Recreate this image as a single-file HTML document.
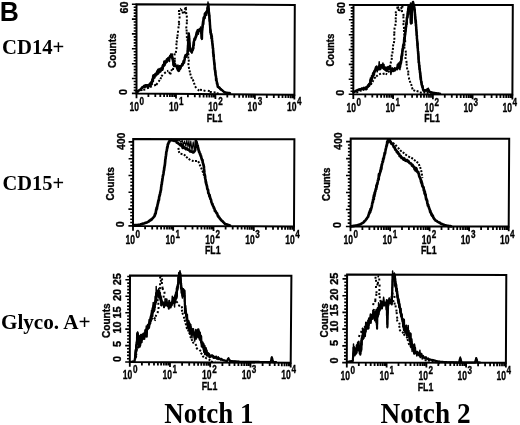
<!DOCTYPE html>
<html><head><meta charset="utf-8"><style>
html,body{margin:0;padding:0;background:#fff;}
svg{display:block;filter:grayscale(1) blur(0.5px);}
.tk{font:bold 12.23px "Liberation Sans", sans-serif;stroke:#000;stroke-width:0.35px;}
.sp{font:bold 10.43px "Liberation Sans", sans-serif;stroke:#000;stroke-width:0.35px;}
.fl{font:bold 11.15px "Liberation Sans", sans-serif;stroke:#000;stroke-width:0.35px;}
.ct{font:bold 10px "Liberation Sans", sans-serif;}
.yl{font:bold 10.5px "Liberation Sans", sans-serif;}
.row{font:bold 20px "Liberation Serif", serif;}
.bb{font:bold 27px "Liberation Sans", sans-serif;}
.col{font:bold 28px "Liberation Serif", serif;}
</style></head><body>
<svg width="520" height="425" viewBox="0 0 520 425">
<rect width="520" height="425" fill="#fff"/>
<polygon points="136.5,4.2 294.8,5.0 294.4,94.8 136.5,93.4" fill="none" stroke="#000" stroke-width="2" stroke-linejoin="miter"/>
<path d="M136.5 93.4h-4.6M136.5 90.4h-2.8M136.5 87.5h-2.8M136.5 84.5h-2.8M136.5 81.5h-2.8M136.5 78.5h-4.6M136.5 75.6h-2.8M136.5 72.6h-2.8M136.5 69.6h-2.8M136.5 66.6h-2.8M136.5 63.7h-4.6M136.5 60.7h-2.8M136.5 57.7h-2.8M136.5 54.7h-2.8M136.5 51.8h-2.8M136.5 48.8h-4.6M136.5 45.8h-2.8M136.5 42.9h-2.8M136.5 39.9h-2.8M136.5 36.9h-2.8M136.5 33.9h-4.6M136.5 31.0h-2.8M136.5 28.0h-2.8M136.5 25.0h-2.8M136.5 22.0h-2.8M136.5 19.1h-4.6M136.5 16.1h-2.8M136.5 13.1h-2.8M136.5 10.1h-2.8M136.5 7.2h-2.8M136.5 4.2h-4.6" stroke="#000" stroke-width="1.6" fill="none"/>
<path d="M136.5 93.4v4.8M148.4 93.5v3.4M155.3 93.6v3.4M160.3 93.6v3.4M164.1 93.6v3.4M167.2 93.7v3.4M169.9 93.7v3.4M172.1 93.7v3.4M174.2 93.7v3.4M176.0 93.8v4.8M187.9 93.9v3.4M194.8 93.9v3.4M199.7 94.0v3.4M203.6 94.0v3.4M206.7 94.0v3.4M209.3 94.0v3.4M211.6 94.1v3.4M213.6 94.1v3.4M215.4 94.1v4.8M227.3 94.2v3.4M234.3 94.3v3.4M239.2 94.3v3.4M243.0 94.3v3.4M246.2 94.4v3.4M248.8 94.4v3.4M251.1 94.4v3.4M253.1 94.4v3.4M254.9 94.5v4.8M266.8 94.6v3.4M273.8 94.6v3.4M278.7 94.7v3.4M282.5 94.7v3.4M285.6 94.7v3.4M288.3 94.7v3.4M290.6 94.8v3.4M292.6 94.8v3.4M294.4 94.8v4.8" stroke="#000" stroke-width="1.8" fill="none"/>
<text class="tk" transform="translate(129.50 111.00) scale(0.70 1)">10</text>
<text class="sp" transform="translate(139.60 105.40) scale(0.78 1)">0</text>
<text class="tk" transform="translate(168.88 111.00) scale(0.70 1)">10</text>
<text class="sp" transform="translate(178.97 105.40) scale(0.78 1)">1</text>
<text class="tk" transform="translate(208.25 111.00) scale(0.70 1)">10</text>
<text class="sp" transform="translate(218.35 105.40) scale(0.78 1)">2</text>
<text class="tk" transform="translate(247.62 111.00) scale(0.70 1)">10</text>
<text class="sp" transform="translate(257.72 105.40) scale(0.78 1)">3</text>
<text class="tk" transform="translate(287.00 111.00) scale(0.70 1)">10</text>
<text class="sp" transform="translate(297.10 105.40) scale(0.78 1)">4</text>
<text class="fl" transform="translate(206.85 122.00) scale(0.79 1)">FL1</text>
<polygon points="353.5,4.9 512.8,4.9 512.4,94.6 353.3,94.2" fill="none" stroke="#000" stroke-width="2" stroke-linejoin="miter"/>
<path d="M353.3 94.2h-4.6M353.3 91.2h-2.8M353.3 88.2h-2.8M353.3 85.3h-2.8M353.3 82.3h-2.8M353.3 79.3h-4.6M353.3 76.3h-2.8M353.3 73.4h-2.8M353.4 70.4h-2.8M353.4 67.4h-2.8M353.4 64.4h-4.6M353.4 61.5h-2.8M353.4 58.5h-2.8M353.4 55.5h-2.8M353.4 52.5h-2.8M353.4 49.6h-4.6M353.4 46.6h-2.8M353.4 43.6h-2.8M353.4 40.6h-2.8M353.4 37.6h-2.8M353.4 34.7h-4.6M353.4 31.7h-2.8M353.4 28.7h-2.8M353.5 25.7h-2.8M353.5 22.8h-2.8M353.5 19.8h-4.6M353.5 16.8h-2.8M353.5 13.8h-2.8M353.5 10.9h-2.8M353.5 7.9h-2.8M353.5 4.9h-4.6" stroke="#000" stroke-width="1.6" fill="none"/>
<path d="M353.3 94.2v4.8M365.3 94.2v3.4M372.3 94.2v3.4M377.2 94.3v3.4M381.1 94.3v3.4M384.3 94.3v3.4M386.9 94.3v3.4M389.2 94.3v3.4M391.3 94.3v3.4M393.1 94.3v4.8M405.0 94.3v3.4M412.1 94.3v3.4M417.0 94.4v3.4M420.9 94.4v3.4M424.0 94.4v3.4M426.7 94.4v3.4M429.0 94.4v3.4M431.0 94.4v3.4M432.9 94.4v4.8M444.8 94.4v3.4M451.8 94.4v3.4M456.8 94.5v3.4M460.7 94.5v3.4M463.8 94.5v3.4M466.5 94.5v3.4M468.8 94.5v3.4M470.8 94.5v3.4M472.6 94.5v4.8M484.6 94.5v3.4M491.6 94.5v3.4M496.6 94.6v3.4M500.4 94.6v3.4M503.6 94.6v3.4M506.2 94.6v3.4M508.5 94.6v3.4M510.6 94.6v3.4M512.4 94.6v4.8" stroke="#000" stroke-width="1.8" fill="none"/>
<text class="tk" transform="translate(346.50 111.50) scale(0.70 1)">10</text>
<text class="sp" transform="translate(356.60 105.90) scale(0.78 1)">0</text>
<text class="tk" transform="translate(385.50 111.50) scale(0.70 1)">10</text>
<text class="sp" transform="translate(395.60 105.90) scale(0.78 1)">1</text>
<text class="tk" transform="translate(424.50 111.50) scale(0.70 1)">10</text>
<text class="sp" transform="translate(434.60 105.90) scale(0.78 1)">2</text>
<text class="tk" transform="translate(463.50 111.50) scale(0.70 1)">10</text>
<text class="sp" transform="translate(473.60 105.90) scale(0.78 1)">3</text>
<text class="tk" transform="translate(502.50 111.50) scale(0.70 1)">10</text>
<text class="sp" transform="translate(512.60 105.90) scale(0.78 1)">4</text>
<text class="fl" transform="translate(424.25 122.30) scale(0.79 1)">FL1</text>
<polygon points="133.2,139.0 294.4,139.2 294.0,226.4 133.0,225.9" fill="none" stroke="#000" stroke-width="2" stroke-linejoin="miter"/>
<path d="M133.0 225.9h-4.6M133.0 222.5h-2.8M133.0 219.2h-2.8M133.0 215.8h-2.8M133.0 212.5h-2.8M133.0 209.1h-4.6M133.0 205.7h-2.8M133.1 202.4h-2.8M133.1 199.0h-2.8M133.1 195.7h-2.8M133.1 192.3h-4.6M133.1 189.0h-2.8M133.1 185.6h-2.8M133.1 182.2h-2.8M133.1 178.9h-2.8M133.1 175.5h-4.6M133.1 172.2h-2.8M133.1 168.8h-2.8M133.1 165.4h-2.8M133.1 162.1h-2.8M133.2 158.7h-4.6M133.2 155.4h-2.8M133.2 152.0h-2.8M133.2 148.7h-2.8M133.2 145.3h-2.8M133.2 141.9h-4.6" stroke="#000" stroke-width="1.6" fill="none"/>
<path d="M133.0 225.9v4.8M145.1 225.9v3.4M152.2 226.0v3.4M157.2 226.0v3.4M161.1 226.0v3.4M164.3 226.0v3.4M167.0 226.0v3.4M169.3 226.0v3.4M171.4 226.0v3.4M173.2 226.0v4.8M185.4 226.1v3.4M192.5 226.1v3.4M197.5 226.1v3.4M201.4 226.1v3.4M204.6 226.1v3.4M207.3 226.1v3.4M209.6 226.1v3.4M211.7 226.1v3.4M213.5 226.2v4.8M225.6 226.2v3.4M232.7 226.2v3.4M237.7 226.2v3.4M241.6 226.2v3.4M244.8 226.2v3.4M247.5 226.3v3.4M249.8 226.3v3.4M251.9 226.3v3.4M253.8 226.3v4.8M265.9 226.3v3.4M273.0 226.3v3.4M278.0 226.4v3.4M281.9 226.4v3.4M285.1 226.4v3.4M287.8 226.4v3.4M290.1 226.4v3.4M292.2 226.4v3.4M294.0 226.4v4.8" stroke="#000" stroke-width="1.8" fill="none"/>
<text class="tk" transform="translate(125.50 243.80) scale(0.70 1)">10</text>
<text class="sp" transform="translate(135.60 238.20) scale(0.78 1)">0</text>
<text class="tk" transform="translate(165.43 243.80) scale(0.70 1)">10</text>
<text class="sp" transform="translate(175.53 238.20) scale(0.78 1)">1</text>
<text class="tk" transform="translate(205.35 243.80) scale(0.70 1)">10</text>
<text class="sp" transform="translate(215.45 238.20) scale(0.78 1)">2</text>
<text class="tk" transform="translate(245.27 243.80) scale(0.70 1)">10</text>
<text class="sp" transform="translate(255.37 238.20) scale(0.78 1)">3</text>
<text class="tk" transform="translate(285.20 243.80) scale(0.70 1)">10</text>
<text class="sp" transform="translate(295.30 238.20) scale(0.78 1)">4</text>
<text class="fl" transform="translate(204.90 254.05) scale(0.79 1)">FL1</text>
<polygon points="350.7,138.6 509.2,138.7 508.7,226.5 350.5,226.5" fill="none" stroke="#000" stroke-width="2" stroke-linejoin="miter"/>
<path d="M350.5 226.5h-4.6M350.5 223.1h-2.8M350.5 219.7h-2.8M350.5 216.3h-2.8M350.5 212.9h-2.8M350.5 209.5h-4.6M350.5 206.1h-2.8M350.6 202.7h-2.8M350.6 199.3h-2.8M350.6 195.9h-2.8M350.6 192.5h-4.6M350.6 189.1h-2.8M350.6 185.7h-2.8M350.6 182.3h-2.8M350.6 178.9h-2.8M350.6 175.5h-4.6M350.6 172.1h-2.8M350.6 168.7h-2.8M350.6 165.4h-2.8M350.6 162.0h-2.8M350.7 158.6h-4.6M350.7 155.2h-2.8M350.7 151.8h-2.8M350.7 148.4h-2.8M350.7 145.0h-2.8M350.7 141.6h-4.6" stroke="#000" stroke-width="1.6" fill="none"/>
<path d="M350.5 226.5v4.8M362.4 226.5v3.4M369.4 226.5v3.4M374.3 226.5v3.4M378.1 226.5v3.4M381.3 226.5v3.4M383.9 226.5v3.4M386.2 226.5v3.4M388.2 226.5v3.4M390.1 226.5v4.8M402.0 226.5v3.4M408.9 226.5v3.4M413.9 226.5v3.4M417.7 226.5v3.4M420.8 226.5v3.4M423.5 226.5v3.4M425.8 226.5v3.4M427.8 226.5v3.4M429.6 226.5v4.8M441.5 226.5v3.4M448.5 226.5v3.4M453.4 226.5v3.4M457.2 226.5v3.4M460.4 226.5v3.4M463.0 226.5v3.4M465.3 226.5v3.4M467.3 226.5v3.4M469.1 226.5v4.8M481.1 226.5v3.4M488.0 226.5v3.4M493.0 226.5v3.4M496.8 226.5v3.4M499.9 226.5v3.4M502.6 226.5v3.4M504.9 226.5v3.4M506.9 226.5v3.4M508.7 226.5v4.8" stroke="#000" stroke-width="1.8" fill="none"/>
<text class="tk" transform="translate(343.50 244.00) scale(0.70 1)">10</text>
<text class="sp" transform="translate(353.60 238.40) scale(0.78 1)">0</text>
<text class="tk" transform="translate(382.60 244.00) scale(0.70 1)">10</text>
<text class="sp" transform="translate(392.70 238.40) scale(0.78 1)">1</text>
<text class="tk" transform="translate(421.70 244.00) scale(0.70 1)">10</text>
<text class="sp" transform="translate(431.80 238.40) scale(0.78 1)">2</text>
<text class="tk" transform="translate(460.80 244.00) scale(0.70 1)">10</text>
<text class="sp" transform="translate(470.90 238.40) scale(0.78 1)">3</text>
<text class="tk" transform="translate(499.90 244.00) scale(0.70 1)">10</text>
<text class="sp" transform="translate(510.00 238.40) scale(0.78 1)">4</text>
<text class="fl" transform="translate(421.00 254.40) scale(0.79 1)">FL1</text>
<polygon points="130.0,275.5 291.4,275.8 290.7,362.8 129.8,362.0" fill="none" stroke="#000" stroke-width="2" stroke-linejoin="miter"/>
<path d="M129.8 362.0h-4.6M129.8 358.7h-2.8M129.8 355.4h-2.8M129.8 352.1h-2.8M129.8 348.8h-2.8M129.8 345.6h-4.6M129.8 342.3h-2.8M129.9 339.0h-2.8M129.9 335.7h-2.8M129.9 332.4h-2.8M129.9 329.1h-4.6M129.9 325.8h-2.8M129.9 322.5h-2.8M129.9 319.2h-2.8M129.9 316.0h-2.8M129.9 312.7h-4.6M129.9 309.4h-2.8M129.9 306.1h-2.8M129.9 302.8h-2.8M129.9 299.5h-2.8M130.0 296.2h-4.6M130.0 292.9h-2.8M130.0 289.6h-2.8M130.0 286.4h-2.8M130.0 283.1h-2.8M130.0 279.8h-4.6M130.0 276.5h-2.8" stroke="#000" stroke-width="1.6" fill="none"/>
<path d="M129.8 362.0v4.8M141.9 362.1v3.4M149.0 362.1v3.4M154.0 362.1v3.4M157.9 362.1v3.4M161.1 362.2v3.4M163.8 362.2v3.4M166.1 362.2v3.4M168.2 362.2v3.4M170.0 362.2v4.8M182.1 362.3v3.4M189.2 362.3v3.4M194.2 362.3v3.4M198.1 362.3v3.4M201.3 362.4v3.4M204.0 362.4v3.4M206.4 362.4v3.4M208.4 362.4v3.4M210.2 362.4v4.8M222.4 362.5v3.4M229.4 362.5v3.4M234.5 362.5v3.4M238.4 362.5v3.4M241.6 362.6v3.4M244.2 362.6v3.4M246.6 362.6v3.4M248.6 362.6v3.4M250.5 362.6v4.8M262.6 362.7v3.4M269.7 362.7v3.4M274.7 362.7v3.4M278.6 362.7v3.4M281.8 362.8v3.4M284.5 362.8v3.4M286.8 362.8v3.4M288.9 362.8v3.4M290.7 362.8v4.8" stroke="#000" stroke-width="1.8" fill="none"/>
<text class="tk" transform="translate(122.80 379.00) scale(0.70 1)">10</text>
<text class="sp" transform="translate(132.90 373.40) scale(0.78 1)">0</text>
<text class="tk" transform="translate(162.43 379.00) scale(0.70 1)">10</text>
<text class="sp" transform="translate(172.53 373.40) scale(0.78 1)">1</text>
<text class="tk" transform="translate(202.05 379.00) scale(0.70 1)">10</text>
<text class="sp" transform="translate(212.15 373.40) scale(0.78 1)">2</text>
<text class="tk" transform="translate(241.68 379.00) scale(0.70 1)">10</text>
<text class="sp" transform="translate(251.78 373.40) scale(0.78 1)">3</text>
<text class="tk" transform="translate(281.30 379.00) scale(0.70 1)">10</text>
<text class="sp" transform="translate(291.40 373.40) scale(0.78 1)">4</text>
<text class="fl" transform="translate(201.65 390.30) scale(0.79 1)">FL1</text>
<polygon points="347.1,274.6 506.3,274.9 505.9,362.8 346.8,362.6" fill="none" stroke="#000" stroke-width="2" stroke-linejoin="miter"/>
<path d="M346.8 362.6h-4.6M346.8 359.3h-2.8M346.8 355.9h-2.8M346.8 352.6h-2.8M346.8 349.2h-2.8M346.9 345.9h-4.6M346.9 342.5h-2.8M346.9 339.2h-2.8M346.9 335.8h-2.8M346.9 332.5h-2.8M346.9 329.1h-4.6M346.9 325.8h-2.8M346.9 322.4h-2.8M346.9 319.1h-2.8M347.0 315.8h-2.8M347.0 312.4h-4.6M347.0 309.1h-2.8M347.0 305.7h-2.8M347.0 302.4h-2.8M347.0 299.0h-2.8M347.0 295.7h-4.6M347.0 292.3h-2.8M347.1 289.0h-2.8M347.1 285.6h-2.8M347.1 282.3h-2.8M347.1 278.9h-4.6M347.1 275.6h-2.8" stroke="#000" stroke-width="1.6" fill="none"/>
<path d="M346.8 362.6v4.8M358.8 362.6v3.4M365.8 362.6v3.4M370.7 362.6v3.4M374.6 362.6v3.4M377.8 362.6v3.4M380.4 362.6v3.4M382.7 362.6v3.4M384.8 362.6v3.4M386.6 362.7v4.8M398.5 362.7v3.4M405.6 362.7v3.4M410.5 362.7v3.4M414.4 362.7v3.4M417.5 362.7v3.4M420.2 362.7v3.4M422.5 362.7v3.4M424.5 362.7v3.4M426.4 362.7v4.8M438.3 362.7v3.4M445.3 362.7v3.4M450.3 362.7v3.4M454.2 362.7v3.4M457.3 362.7v3.4M460.0 362.7v3.4M462.3 362.7v3.4M464.3 362.7v3.4M466.1 362.8v4.8M478.1 362.8v3.4M485.1 362.8v3.4M490.1 362.8v3.4M493.9 362.8v3.4M497.1 362.8v3.4M499.7 362.8v3.4M502.0 362.8v3.4M504.1 362.8v3.4M505.9 362.8v4.8" stroke="#000" stroke-width="1.8" fill="none"/>
<text class="tk" transform="translate(340.50 379.60) scale(0.70 1)">10</text>
<text class="sp" transform="translate(350.60 374.00) scale(0.78 1)">0</text>
<text class="tk" transform="translate(379.48 379.60) scale(0.70 1)">10</text>
<text class="sp" transform="translate(389.57 374.00) scale(0.78 1)">1</text>
<text class="tk" transform="translate(418.45 379.60) scale(0.70 1)">10</text>
<text class="sp" transform="translate(428.55 374.00) scale(0.78 1)">2</text>
<text class="tk" transform="translate(457.42 379.60) scale(0.70 1)">10</text>
<text class="sp" transform="translate(467.52 374.00) scale(0.78 1)">3</text>
<text class="tk" transform="translate(496.40 379.60) scale(0.70 1)">10</text>
<text class="sp" transform="translate(506.50 374.00) scale(0.78 1)">4</text>
<text class="fl" transform="translate(417.75 390.60) scale(0.79 1)">FL1</text>
<polyline points="136.5,91.8 137.2,91.5 137.9,91.0 138.6,90.6 139.3,90.4 140.0,89.8 140.5,89.4 141.1,88.9 141.6,88.1 142.1,87.3 142.7,87.3 143.2,87.1 144.0,85.9 144.8,85.6 145.6,86.2 146.3,85.2 147.1,85.4 147.8,87.1 148.5,85.2 149.2,85.9 149.8,83.8 150.5,84.1 150.8,84.9 151.2,84.1 151.6,81.8 151.9,81.5 152.1,81.3 152.4,79.3 152.6,80.3 152.9,81.3 153.1,77.0 153.3,75.6 153.6,77.2 153.8,76.1 154.4,77.6 155.0,75.2 155.5,74.9 156.1,74.4 156.7,73.2 157.2,74.3 157.7,71.7 158.1,73.6 158.6,71.9 159.1,71.8 159.6,70.2 160.1,69.3 160.5,71.4 161.0,69.5 161.5,69.7 161.9,68.0 162.3,69.8 162.7,66.9 163.1,64.9 163.5,66.0 163.9,65.0 164.4,61.6 164.9,63.0 165.3,63.4 165.8,62.5 166.4,60.8 167.0,59.3 167.5,60.5 168.1,58.2 168.7,60.1 169.2,57.9 169.7,56.8 170.1,56.6 170.6,55.7 171.1,55.4 172.0,54.8 172.1,55.9 172.3,57.2 172.4,58.3 172.5,57.4 172.7,58.3 172.8,59.5 173.0,60.8 173.1,61.6 173.2,60.2 173.4,64.7 173.5,62.8 174.1,66.1 174.7,63.5 175.2,64.4 175.8,65.7 176.4,66.3 176.8,66.3 177.2,68.4 177.5,66.5 177.9,70.0 178.3,68.7 178.7,70.2 179.1,67.9 179.4,66.3 179.8,67.5 180.2,68.7 180.9,66.0 181.6,65.7 182.4,64.7 183.1,63.7 183.3,63.1 183.5,61.8 183.7,61.0 183.9,61.7 184.1,62.5 184.3,60.7 184.5,59.9 184.7,59.0 184.9,57.1 185.1,57.4 185.3,56.1 185.8,56.7 186.2,56.3 186.7,55.7 187.1,54.1 187.6,54.0 187.6,51.6 187.7,51.5 187.7,50.6 187.8,49.2 187.8,48.4 187.9,47.8 187.9,47.5 188.0,45.3 188.0,48.5 188.0,46.0 188.1,45.1 188.1,45.0 188.2,43.5 188.2,43.4 188.3,42.6 188.3,42.2 188.4,38.5 188.4,41.0 188.4,39.4 188.5,39.2 188.5,38.3 188.6,37.4 188.6,37.8 188.7,35.3 188.7,35.5 188.8,33.9 188.8,33.5 188.9,36.6 188.9,36.7 189.0,36.0 189.0,37.3 189.1,36.9 189.1,35.9 189.2,39.1 189.2,39.0 189.3,38.8 189.3,38.4 189.4,42.9 189.5,42.7 189.5,43.4 189.6,42.9 189.6,44.3 189.7,46.4 189.7,45.2 189.8,46.7 189.8,46.2 189.9,48.1 189.9,47.6 190.0,48.9 190.4,49.6 190.9,51.5 191.4,51.6 191.8,51.2 192.0,50.9 192.3,50.3 192.5,49.6 192.8,48.0 193.0,49.0 193.1,47.7 193.2,47.0 193.3,48.6 193.4,44.9 193.6,45.4 193.7,42.5 193.8,45.2 193.9,41.7 194.0,40.9 194.1,41.0 194.4,39.6 194.6,38.6 194.9,39.9 195.1,39.2 195.4,37.8 195.6,36.8 195.9,37.1 196.1,35.2 196.3,34.4 196.4,35.4 196.6,32.9 196.8,32.2 197.0,32.9 197.6,31.6 198.2,30.5 198.8,30.9 199.4,30.3 199.8,29.3 200.2,29.7 200.6,29.5 200.7,30.5 200.8,28.9 200.9,31.0 201.0,31.7 201.1,30.2 201.3,32.1 201.4,33.7 201.5,32.6 201.6,35.5 201.7,37.1 201.8,35.2 201.9,37.2 201.9,38.6 202.0,34.0 202.0,33.2 202.1,32.3 202.1,29.1 202.2,30.0 202.2,31.3 202.3,29.4 202.3,29.6 202.4,28.2 202.5,27.4 202.6,27.3 202.7,24.9 202.8,25.6 202.9,24.8 203.0,22.5 203.1,21.3 203.2,21.7 203.3,24.2 203.4,22.3 203.5,21.2 203.8,18.9 204.0,18.7 204.2,17.6 204.5,18.1 204.8,16.8 205.0,13.6 205.3,15.6 205.7,15.0 206.0,12.9 206.3,12.0 206.7,12.6 207.0,10.7 207.1,10.9 207.3,9.9 207.4,8.7 207.6,7.3 207.7,10.0 207.9,6.3 208.0,6.6 208.2,5.5 208.3,5.0 208.4,4.2 208.4,5.6 208.5,5.9 208.6,9.1 208.6,7.8 208.7,8.5 208.8,10.9 208.8,11.1 208.9,12.8 209.0,12.8 209.0,13.0 209.1,12.8 209.2,15.9 209.2,14.9 209.3,14.9 209.4,16.3 209.4,17.1 209.5,19.5 209.6,21.2 209.6,19.2 209.7,21.2 209.7,20.1 209.8,21.4 209.8,21.6 209.9,23.2 209.9,24.4 210.0,24.7 210.0,24.9 210.1,25.9 210.1,26.0 210.2,28.0 210.2,27.8 210.3,29.1 210.3,30.6 210.4,29.7 210.4,32.6 210.5,29.5 210.7,31.9 210.8,34.2 211.0,33.6 211.2,33.7 211.3,34.9 211.5,37.7 211.6,38.6 211.8,36.2 211.9,37.7 212.0,38.4 212.0,41.2 212.1,40.3 212.2,41.7 212.2,42.2 212.3,42.8 212.4,43.1 212.5,45.2 212.6,45.0 212.6,44.6 212.7,46.3 212.8,45.9 212.8,48.0 212.9,48.2 213.0,48.5 213.1,48.1 213.1,53.1 213.2,51.5 213.3,54.1 213.3,52.2 213.4,54.2 213.5,56.4 213.6,56.1 213.6,55.4 213.7,54.7 213.8,56.1 213.8,58.7 213.9,59.7 214.0,60.4 214.0,60.5 214.1,61.5 214.2,62.6 214.3,62.4 214.3,63.7 214.4,64.5 214.5,63.8 214.6,66.3 214.6,67.9 214.7,69.3 214.8,68.1 214.9,68.2 214.9,67.7 215.0,70.5 215.1,71.2 215.2,70.3 215.2,72.5 215.3,72.0 215.4,72.0 215.5,73.9 215.5,74.3 215.6,74.7 215.7,75.5 215.8,76.3 216.0,76.0 216.1,80.3 216.3,80.3 216.4,78.4 216.5,80.8 216.7,81.1 216.8,81.6 217.0,83.8 217.1,83.6 217.2,83.0 217.4,84.3 217.5,84.2 217.7,86.1 217.8,86.7 218.4,87.2 219.0,87.5 219.6,88.1 220.2,88.7 220.8,89.6 221.4,89.6 222.0,90.1 222.6,90.6 223.1,91.1 223.7,91.6 224.2,92.0 224.8,92.5 225.5,92.6 226.3,92.7 227.0,92.8 227.8,92.9 228.5,93.0 229.3,93.1 230.0,93.2" fill="none" stroke="#000" stroke-width="2.5" stroke-linejoin="round" stroke-linecap="round"/>
<polyline points="136.5,91.8 137.1,91.4 137.7,91.2 138.2,90.8 138.8,90.5 139.4,89.7 140.0,90.1 140.5,89.8 140.9,89.2 141.4,88.5 141.8,87.9 142.3,88.3 142.7,88.2 143.2,87.3 143.8,86.3 144.4,86.8 145.0,87.8 145.6,84.7 146.3,86.5 147.1,84.7 147.8,85.1 148.5,87.8 149.0,84.5 149.5,84.7 150.0,83.2 150.5,84.9 150.8,82.3 151.2,82.4 151.6,82.9 151.9,81.6 152.1,84.6 152.3,80.5 152.5,79.5 152.7,80.7 152.9,78.4 153.0,77.9 153.2,76.2 153.4,77.2 153.6,77.9 153.8,74.8 154.4,75.0 155.0,73.6 155.5,73.3 156.1,75.9 156.7,71.4 157.1,70.8 157.5,70.3 157.9,69.4 158.3,72.3 158.7,73.0 159.1,68.6 159.5,72.3 159.9,71.8 160.3,69.2 160.7,69.4 161.1,67.7 161.5,69.9 161.8,68.2 162.2,67.4 162.5,65.4 162.9,65.4 163.2,68.8 163.6,64.7 163.9,66.0 164.3,61.5 164.7,63.9 165.0,65.4 165.4,63.0 165.8,62.2 166.3,60.4 166.8,61.6 167.2,62.1 167.7,60.2 168.2,59.9 168.7,58.7 169.1,58.6 169.5,61.5 169.9,55.6 170.3,56.6 170.7,53.9 171.1,57.5 172.0,53.9 172.1,56.4 172.2,55.0 172.3,59.5 172.5,59.7 172.6,58.9 172.7,59.1 172.8,59.8 172.9,59.9 173.0,62.5 173.2,60.6 173.3,60.9 173.4,61.7 173.5,63.7 174.0,60.9 174.5,66.2 174.9,65.6 175.4,66.0 175.9,66.3 176.4,66.9 176.8,68.0 177.2,68.8 177.5,68.0 177.9,64.9 178.3,71.4 178.7,69.1 179.1,68.5 179.4,71.1 179.8,69.6 180.2,66.4 180.8,68.0 181.4,66.1 181.9,63.5 182.5,65.8 183.1,64.7 183.3,64.3 183.4,61.0 183.6,60.9 183.8,61.3 183.9,62.8 184.1,62.8 184.3,60.8 184.5,60.4 184.6,57.3 184.8,58.9 185.0,58.3 185.1,58.6 185.3,54.5 185.7,55.9 186.1,57.3 186.4,56.2 186.8,55.6 187.2,54.9 187.6,53.2 187.6,50.6 187.7,52.0 187.7,50.5 187.8,52.8 187.8,50.0 187.8,52.1 187.9,49.8 187.9,46.3 187.9,48.7 188.0,46.6 188.0,46.8 188.1,45.6 188.1,44.1 188.1,44.1 188.2,44.8 188.2,44.1 188.2,42.6 188.3,42.1 188.3,40.7 188.3,44.4 188.4,41.0 188.4,37.4 188.5,40.8 188.5,38.0 188.5,37.9 188.6,33.8 188.6,34.7 188.7,35.6 188.7,37.4 188.7,37.9 188.8,33.6 188.8,34.4 188.8,34.4 188.9,37.5 188.9,34.8 189.0,38.3 189.0,34.0 189.1,34.3 189.1,39.3 189.2,34.8 189.2,39.1 189.3,40.1 189.3,41.3 189.4,41.0 189.4,42.2 189.4,42.5 189.5,42.2 189.5,41.6 189.6,43.8 189.6,46.4 189.7,45.5 189.7,47.2 189.8,45.9 189.8,47.3 189.9,50.7 189.9,47.0 190.0,47.4 190.0,51.1 190.4,51.4 190.7,50.6 191.1,49.5 191.4,50.4 191.8,53.2 192.0,52.4 192.2,50.7 192.4,52.2 192.6,48.7 192.8,46.9 193.0,50.0 193.1,45.4 193.2,50.1 193.3,49.4 193.4,44.6 193.5,43.3 193.6,41.5 193.7,44.2 193.8,42.4 193.9,44.7 194.0,40.3 194.1,42.5 194.3,39.1 194.6,38.8 194.8,39.1 195.0,38.6 195.2,38.6 195.4,39.2 195.7,36.3 195.9,37.8 196.1,35.4 196.2,36.6 196.4,33.8 196.5,34.3 196.7,36.2 196.8,35.1 197.0,30.8 197.5,29.6 198.0,30.0 198.4,34.2 198.9,29.3 199.4,31.4 199.8,31.1 200.2,29.6 200.6,26.9 200.7,27.5 200.8,29.1 200.9,33.5 201.0,31.1 201.1,31.7 201.2,32.8 201.3,38.4 201.4,33.8 201.5,34.6 201.6,34.5 201.7,34.5 201.8,39.6 201.8,38.0 201.9,33.3 201.9,36.0 202.0,32.2 202.0,36.2 202.1,31.5 202.1,31.2 202.2,30.6 202.2,34.3 202.3,27.4 202.3,26.0 202.4,29.6 202.4,29.7 202.5,26.0 202.6,22.8 202.7,26.5 202.7,23.9 202.8,27.3 202.9,23.0 203.0,23.0 203.1,24.5 203.2,17.3 203.2,19.0 203.3,20.3 203.4,19.3 203.5,19.7 203.7,18.7 203.9,16.6 204.1,17.5 204.4,17.4 204.6,13.2 204.8,18.3 205.0,16.3 205.3,13.6 205.6,14.5 205.9,12.4 206.1,13.1 206.4,13.6 206.7,15.1 207.0,10.8 207.1,10.2 207.3,9.7 207.4,9.9 207.5,7.7 207.7,9.3 207.8,8.1 207.9,7.1 208.0,2.0 208.2,7.4 208.3,4.1 208.4,9.1 208.4,8.4 208.5,8.8 208.5,9.2 208.6,9.8 208.6,10.5 208.7,12.3 208.8,11.0 208.8,10.0 208.9,13.7 208.9,11.7 209.0,15.5 209.0,14.0 209.1,12.2 209.2,15.0 209.2,13.8 209.3,15.9 209.3,18.4 209.4,15.6 209.4,17.5 209.5,15.1 209.5,18.4 209.6,21.7 209.6,19.8 209.7,18.9 209.7,19.8 209.8,19.8 209.8,23.6 209.8,21.5 209.9,21.7 209.9,25.4 210.0,24.9 210.0,22.8 210.1,24.2 210.1,27.7 210.2,29.2 210.2,26.7 210.2,28.1 210.3,27.8 210.3,27.5 210.4,30.3 210.4,30.2 210.5,33.2 210.5,32.5 210.6,32.9 210.8,31.1 210.9,35.9 211.1,35.4 211.2,34.2 211.4,38.7 211.5,34.2 211.7,35.7 211.8,38.6 211.9,38.2 211.9,39.7 212.0,39.8 212.1,38.7 212.1,42.1 212.2,43.7 212.2,41.8 212.3,41.4 212.4,42.9 212.4,40.7 212.5,41.6 212.6,44.4 212.6,44.3 212.7,48.8 212.7,47.7 212.8,44.7 212.9,46.8 212.9,48.4 213.0,51.7 213.1,48.0 213.1,48.9 213.2,53.2 213.2,49.4 213.3,51.8 213.3,52.6 213.4,51.3 213.5,50.4 213.5,56.8 213.6,54.5 213.6,54.7 213.7,56.4 213.8,59.1 213.8,59.7 213.9,58.6 213.9,58.7 214.0,60.5 214.0,60.3 214.1,61.7 214.2,61.5 214.2,64.1 214.3,62.3 214.4,63.5 214.4,59.0 214.5,65.1 214.6,64.5 214.6,62.8 214.7,66.3 214.8,66.5 214.8,67.0 214.9,68.9 215.0,68.8 215.0,69.5 215.1,68.2 215.2,69.4 215.2,70.0 215.3,74.2 215.4,74.2 215.4,75.1 215.5,75.0 215.6,70.7 215.6,76.1 215.7,74.3 215.8,74.9 215.9,77.8 216.0,76.6 216.2,79.2 216.3,78.0 216.4,79.7 216.5,81.2 216.6,81.1 216.8,81.8 216.9,82.2 217.0,82.2 217.1,82.3 217.2,82.4 217.3,83.9 217.5,85.6 217.6,86.3 217.7,85.4 217.8,87.1 218.3,86.9 218.7,86.8 219.2,88.4 219.7,87.1 220.1,88.7 220.6,89.2 221.1,88.9 221.5,90.0 222.0,90.1 222.5,90.3 222.9,90.9 223.4,91.2 223.9,91.7 224.3,92.1 224.8,92.5 225.5,92.6 226.1,92.7 226.8,92.8 227.4,92.8 228.1,92.9 228.7,93.0 229.3,93.1 230.0,93.2" fill="none" stroke="#000" stroke-width="1.5" stroke-linejoin="round" stroke-linecap="round"/>
<polyline points="353.5,92.0 354.2,91.8 354.9,91.6 355.6,91.1 356.3,90.7 357.0,90.3 357.7,90.3 358.4,89.7 359.1,89.4 359.8,89.6 360.5,89.3 361.2,89.2 361.9,88.5 362.6,88.7 363.3,88.5 363.9,87.8 364.6,88.5 365.3,88.3 366.0,89.1 366.5,87.5 367.0,86.8 367.5,87.1 368.0,85.8 368.5,85.8 369.0,84.3 369.5,84.2 369.8,84.2 370.1,83.2 370.3,82.0 370.6,79.9 370.9,80.9 371.2,79.8 371.4,79.8 371.7,78.5 372.0,78.8 372.3,76.7 372.6,76.3 372.8,76.1 373.1,73.3 373.4,73.4 373.7,72.6 373.9,74.8 374.2,71.6 374.5,71.8 375.0,71.1 375.5,69.4 376.0,67.3 376.5,69.7 377.2,67.9 377.9,69.2 378.6,66.6 379.2,67.3 379.9,68.9 380.5,68.7 381.4,65.2 382.4,64.9 383.1,66.9 383.8,68.4 384.5,68.2 385.1,68.7 385.8,67.5 386.4,69.8 387.0,70.7 387.6,68.5 388.2,67.0 388.9,67.4 389.5,68.9 390.1,66.6 390.6,69.2 391.2,68.8 391.8,70.4 392.4,69.8 392.9,69.6 393.4,70.8 394.0,69.0 394.8,70.4 395.7,68.9 396.5,68.8 397.2,69.2 397.8,64.7 398.5,67.5 399.2,67.4 400.0,65.5 400.1,66.9 400.2,64.9 400.4,61.9 400.5,63.9 400.6,62.3 400.7,62.2 400.8,61.9 401.0,62.9 401.1,60.8 401.2,60.0 401.3,59.7 401.4,56.3 401.5,59.3 401.6,55.7 401.7,56.8 401.9,54.2 402.0,53.6 402.1,53.6 402.2,55.6 402.3,53.4 402.4,51.1 402.5,50.7 402.6,49.0 402.7,49.6 402.9,48.3 403.0,49.1 403.1,45.9 403.2,46.4 403.3,45.1 403.4,44.5 403.5,45.6 403.7,44.1 403.8,44.0 403.9,44.0 404.0,43.2 404.1,39.5 404.2,41.1 404.4,37.6 404.5,38.9 404.6,40.6 404.7,37.4 404.8,36.5 404.9,36.4 405.0,35.5 405.0,34.8 405.1,33.2 405.2,34.7 405.3,33.8 405.4,31.8 405.5,31.7 405.6,31.4 405.6,31.2 405.7,29.7 405.8,29.4 405.9,27.5 406.0,25.9 406.1,25.9 406.1,27.0 406.2,26.2 406.3,24.5 406.4,23.0 406.5,23.3 406.6,24.3 406.7,23.2 406.7,20.1 406.8,20.1 406.9,17.8 407.0,17.4 407.1,18.3 407.2,17.4 407.3,17.8 407.4,17.4 407.5,16.2 407.6,16.1 407.7,13.1 407.8,11.7 407.9,12.9 408.0,14.8 408.1,11.3 408.2,8.8 408.3,9.7 408.4,10.4 408.5,6.8 408.8,8.1 409.1,5.6 409.4,7.0 410.5,6.4 410.5,6.6 410.5,9.3 410.5,7.2 410.6,7.5 410.6,11.3 410.6,8.8 410.6,13.2 410.6,11.2 410.6,10.7 410.6,12.7 410.6,13.5 410.7,14.4 410.7,14.6 410.7,16.8 410.7,13.5 410.7,16.3 410.7,17.4 410.7,20.6 410.7,16.7 410.8,19.4 410.8,19.2 410.8,20.5 410.8,22.8 411.6,22.5 411.6,23.0 411.6,19.8 411.7,20.2 411.7,20.5 411.7,19.5 411.7,17.3 411.7,18.3 411.7,15.2 411.8,17.7 411.8,15.0 411.8,14.0 411.8,13.7 411.8,13.7 411.8,14.0 411.9,11.1 411.9,10.1 411.9,10.5 411.9,8.0 411.9,6.3 411.9,8.7 412.0,6.5 412.0,7.6 412.0,4.3 413.0,2.0 414.0,5.8 414.1,6.4 414.2,8.8 414.2,8.3 414.3,8.7 414.4,9.7 414.5,9.3 414.6,10.6 414.7,9.5 414.8,12.5 414.8,11.6 414.9,12.8 415.0,14.8 415.1,15.8 415.1,14.3 415.2,18.6 415.3,16.2 415.3,18.7 415.4,19.5 415.5,19.4 415.5,20.1 415.6,22.8 415.7,22.4 415.7,22.6 415.8,20.6 415.9,22.6 415.9,25.7 416.0,25.2 416.1,24.6 416.1,25.7 416.2,26.8 416.2,28.8 416.3,29.1 416.3,30.6 416.4,29.2 416.5,32.1 416.5,31.0 416.6,32.0 416.6,35.2 416.7,33.9 416.7,34.4 416.8,35.0 416.9,35.5 416.9,38.6 417.0,39.1 417.0,39.0 417.1,39.0 417.1,40.8 417.2,40.1 417.2,41.5 417.3,42.1 417.4,42.5 417.4,45.0 417.5,45.9 417.5,46.1 417.6,42.9 417.6,48.1 417.7,47.4 417.7,46.8 417.8,48.0 417.9,50.1 417.9,50.9 418.0,51.2 418.0,51.1 418.1,51.7 418.1,53.4 418.2,53.0 418.2,52.8 418.3,53.9 418.4,55.2 418.4,56.5 418.5,59.5 418.5,55.9 418.6,58.8 418.6,58.9 418.7,60.1 418.7,62.1 418.8,62.7 418.9,61.7 419.0,62.0 419.0,61.7 419.1,64.0 419.2,66.3 419.3,65.2 419.4,67.1 419.4,67.8 419.5,68.2 419.6,69.7 419.7,69.0 419.8,68.8 419.8,69.2 419.9,72.4 420.0,71.6 420.1,72.4 420.2,74.5 420.3,73.3 420.4,77.1 420.5,76.5 420.6,75.8 420.6,76.4 420.7,79.2 420.8,77.3 420.9,78.7 421.0,80.2 421.1,81.1 421.2,81.7 421.3,82.8 421.5,82.7 421.7,83.7 421.9,85.5 422.0,85.6 422.2,85.5 422.4,87.5 422.6,86.1 422.8,87.9 422.9,88.8 423.1,89.6 423.3,89.9 423.5,90.5 424.2,90.7 424.9,90.5 425.6,90.6 426.3,90.0 427.0,90.6 427.5,89.4 428.0,89.1 428.4,89.7 428.7,90.4 429.0,91.0 429.4,91.8 430.2,92.0 430.9,92.2 431.7,92.4 432.5,92.6 433.2,92.8 434.0,93.0 434.8,93.1 435.5,93.2 436.2,93.3 437.0,93.4 437.8,93.5 438.5,93.6 439.2,93.7 440.0,93.8" fill="none" stroke="#000" stroke-width="2.5" stroke-linejoin="round" stroke-linecap="round"/>
<polyline points="353.5,92.0 354.1,91.8 354.7,91.7 355.2,91.4 355.8,91.4 356.4,90.8 357.0,90.9 357.6,90.6 358.2,89.9 358.8,90.5 359.4,89.5 360.0,88.8 360.6,89.0 361.2,88.6 361.8,88.6 362.4,89.3 363.0,88.6 363.6,89.7 364.2,88.3 364.8,88.7 365.4,88.2 366.0,86.8 366.4,87.7 366.9,87.5 367.3,87.6 367.8,84.9 368.2,86.9 368.6,86.7 369.1,83.6 369.5,84.8 369.7,85.6 370.0,80.3 370.2,83.3 370.4,78.1 370.6,81.7 370.9,83.8 371.1,79.6 371.3,80.8 371.5,75.7 371.8,77.2 372.0,76.9 372.2,78.9 372.5,76.1 372.7,77.6 372.9,75.3 373.1,73.5 373.4,74.6 373.6,74.2 373.8,72.6 374.0,74.1 374.3,70.3 374.5,71.7 374.9,72.0 375.3,69.1 375.7,69.8 376.1,69.2 376.5,65.9 377.2,71.8 377.9,67.9 378.6,69.6 379.2,61.8 379.9,69.8 380.5,65.9 381.1,64.7 381.8,66.1 382.4,68.1 382.9,63.1 383.4,68.9 384.0,64.6 384.5,69.9 385.1,68.7 385.8,70.7 386.4,70.3 387.0,67.4 387.6,67.9 388.2,69.5 388.9,67.3 389.5,67.7 390.0,66.1 390.4,70.2 390.9,74.4 391.3,72.0 391.8,71.3 392.2,67.8 392.7,69.2 393.1,71.6 393.6,68.7 394.0,69.6 394.6,67.7 395.2,67.9 395.9,69.3 396.5,68.2 397.0,67.5 397.5,68.6 398.0,67.1 398.5,63.1 399.2,68.3 400.0,69.6 400.1,66.6 400.2,64.5 400.3,62.5 400.4,62.5 400.5,63.1 400.7,64.6 400.8,62.2 400.9,61.1 401.0,58.7 401.1,60.4 401.2,58.0 401.3,62.5 401.4,59.1 401.5,57.5 401.6,60.6 401.7,60.0 401.8,56.0 401.8,52.7 401.9,57.0 402.0,53.1 402.1,54.7 402.2,50.7 402.3,51.3 402.4,50.9 402.5,49.1 402.6,48.1 402.7,51.6 402.8,48.2 402.9,50.9 403.0,49.0 403.1,47.5 403.2,47.7 403.3,45.3 403.4,45.1 403.5,45.3 403.6,44.5 403.7,42.2 403.8,44.5 403.9,43.0 404.0,44.7 404.1,40.0 404.2,45.1 404.3,40.2 404.4,41.3 404.5,39.7 404.6,35.1 404.7,36.9 404.8,39.1 404.8,39.0 404.9,35.3 405.0,38.1 405.1,36.7 405.1,32.9 405.2,36.0 405.3,32.8 405.4,29.5 405.4,32.7 405.5,31.1 405.6,29.5 405.7,27.4 405.7,28.0 405.8,30.7 405.9,26.8 406.0,25.0 406.0,24.6 406.1,28.0 406.2,28.5 406.3,22.6 406.3,23.0 406.4,24.9 406.5,24.9 406.6,21.4 406.6,22.5 406.7,24.5 406.8,19.4 406.9,19.3 406.9,19.6 407.0,19.7 407.1,18.1 407.2,15.3 407.2,16.9 407.3,18.0 407.4,13.7 407.5,13.5 407.6,13.3 407.7,17.3 407.8,12.9 407.8,10.8 407.9,14.7 408.0,13.6 408.1,10.3 408.2,11.0 408.2,10.1 408.3,10.4 408.4,8.4 408.5,8.4 408.7,6.3 408.9,6.9 409.2,7.2 409.4,5.8 410.5,4.8 410.5,2.9 410.5,7.3 410.5,7.1 410.5,7.9 410.6,11.9 410.6,9.5 410.6,9.5 410.6,11.1 410.6,7.9 410.6,11.1 410.6,11.9 410.6,13.7 410.6,14.2 410.7,15.9 410.7,14.8 410.7,14.5 410.7,16.1 410.7,13.8 410.7,15.5 410.7,17.1 410.7,20.4 410.7,19.4 410.8,17.2 410.8,21.6 410.8,21.8 410.8,21.8 410.8,24.1 411.6,22.2 411.6,23.5 411.6,21.6 411.6,18.7 411.7,20.2 411.7,20.4 411.7,22.1 411.7,16.9 411.7,17.2 411.7,13.8 411.7,14.5 411.8,11.5 411.8,14.9 411.8,15.5 411.8,11.1 411.8,14.6 411.8,12.5 411.9,10.5 411.9,10.9 411.9,7.7 411.9,9.8 411.9,9.2 411.9,5.5 411.9,7.9 412.0,5.8 412.0,5.1 412.0,4.7 412.0,5.5 412.7,4.6 413.3,6.8 414.0,8.1 414.1,5.9 414.1,5.4 414.2,7.7 414.3,4.8 414.4,7.3 414.4,7.5 414.5,11.0 414.6,10.8 414.6,11.4 414.7,7.4 414.8,12.4 414.9,13.2 414.9,10.9 415.0,17.5 415.1,15.5 415.1,19.3 415.2,16.6 415.2,13.1 415.3,19.8 415.3,17.5 415.4,18.9 415.4,20.7 415.5,17.4 415.6,21.7 415.6,19.0 415.7,23.7 415.7,23.2 415.8,22.8 415.8,23.4 415.9,24.9 415.9,24.4 416.0,21.3 416.0,27.3 416.1,27.4 416.1,28.2 416.2,27.5 416.2,29.7 416.3,30.8 416.3,31.0 416.4,26.9 416.4,30.2 416.5,32.9 416.5,32.0 416.6,34.9 416.6,33.3 416.7,36.5 416.7,31.9 416.8,35.1 416.8,38.1 416.8,33.0 416.9,36.2 416.9,40.0 417.0,37.7 417.0,38.6 417.1,39.6 417.1,38.6 417.2,39.6 417.2,43.6 417.3,42.4 417.3,40.5 417.4,42.2 417.4,41.4 417.5,46.0 417.5,44.6 417.6,45.6 417.6,46.7 417.7,44.0 417.7,48.2 417.8,47.6 417.8,49.2 417.8,47.3 417.9,48.6 417.9,47.3 418.0,49.4 418.0,49.7 418.1,55.2 418.1,52.7 418.2,52.7 418.2,54.2 418.3,54.3 418.3,53.1 418.3,55.3 418.4,55.2 418.4,51.2 418.5,55.6 418.5,58.0 418.6,58.9 418.6,62.7 418.7,60.9 418.7,56.6 418.8,62.6 418.8,61.2 418.9,61.8 418.9,60.8 419.0,64.8 419.1,65.7 419.1,62.7 419.2,66.4 419.3,64.2 419.3,65.4 419.4,69.5 419.5,67.6 419.5,68.0 419.6,65.3 419.7,68.2 419.7,71.0 419.8,69.0 419.9,69.6 419.9,71.3 420.0,69.8 420.1,69.1 420.2,72.6 420.2,74.8 420.3,75.3 420.4,71.6 420.5,75.2 420.5,79.5 420.6,75.1 420.7,78.0 420.8,79.6 420.8,78.8 420.9,80.6 421.0,80.4 421.1,81.5 421.1,82.0 421.2,80.0 421.3,84.5 421.5,82.6 421.6,83.7 421.8,81.3 421.9,83.9 422.1,85.1 422.2,85.0 422.4,87.0 422.6,87.6 422.7,88.5 422.9,88.3 423.0,88.4 423.2,89.6 423.3,90.0 423.5,90.5 424.2,90.7 424.9,89.8 425.6,90.7 426.3,90.6 427.0,90.8 427.3,89.7 427.7,89.1 428.0,89.8 428.3,88.3 428.6,90.3 428.8,90.6 429.1,91.2 429.4,91.8 430.1,91.8 430.7,92.1 431.4,92.3 432.0,92.5 432.7,92.7 433.3,92.8 434.0,93.0 434.6,93.1 435.2,93.2 435.8,93.2 436.4,93.3 437.0,93.4 437.6,93.5 438.2,93.6 438.8,93.6 439.4,93.7 440.0,93.8" fill="none" stroke="#000" stroke-width="1.5" stroke-linejoin="round" stroke-linecap="round"/>
<polyline points="134.0,225.3 134.7,225.2 135.4,225.2 136.1,225.1 136.8,225.1 137.5,225.0 138.2,224.9 138.9,224.9 139.6,224.8 140.3,224.6 141.0,224.3 141.7,224.1 142.4,223.9 143.1,223.6 143.8,223.5 144.5,223.2 145.2,222.8 145.9,222.8 146.6,222.5 147.3,222.2 147.9,221.9 148.5,221.6 149.1,221.1 149.7,220.6 150.2,220.4 150.8,219.7 151.4,219.9 152.0,218.9 152.5,218.5 153.0,217.9 153.5,217.4 154.0,216.6 154.5,216.2 155.0,214.0 155.2,214.6 155.3,213.9 155.5,213.1 155.7,213.4 155.9,211.4 156.0,211.2 156.2,209.5 156.4,210.0 156.5,208.4 156.7,207.7 156.9,209.0 157.0,207.5 157.2,206.5 157.4,205.9 157.6,204.4 157.7,203.9 157.9,203.9 158.1,202.0 158.2,202.5 158.4,200.7 158.5,201.0 158.7,199.6 158.8,200.4 159.0,199.3 159.1,197.8 159.3,196.4 159.4,196.3 159.6,195.9 159.7,194.8 159.9,194.7 160.0,194.4 160.2,193.1 160.3,192.2 160.5,192.1 160.6,190.9 160.8,190.8 160.9,189.5 161.0,189.7 161.1,188.0 161.2,186.9 161.3,186.8 161.4,185.7 161.5,184.8 161.6,184.5 161.8,184.2 161.9,182.0 162.0,182.4 162.1,181.6 162.2,180.9 162.3,180.6 162.4,178.8 162.5,179.1 162.6,177.9 162.7,177.4 162.8,176.5 163.0,175.7 163.1,174.9 163.2,174.6 163.3,174.7 163.5,173.4 163.6,172.6 163.7,171.7 163.9,170.4 164.0,170.3 164.1,170.3 164.2,167.9 164.3,168.2 164.4,167.6 164.5,166.5 164.6,166.1 164.7,165.7 164.8,165.4 164.9,164.2 165.0,163.6 165.1,162.3 165.2,161.8 165.2,160.8 165.3,160.1 165.4,159.0 165.5,158.9 165.6,158.5 165.7,157.0 165.8,156.5 165.9,156.0 166.0,155.0 166.1,154.7 166.2,153.6 166.3,152.2 166.4,151.6 166.5,151.7 166.7,151.0 166.8,150.6 166.9,149.4 167.1,148.7 167.2,147.1 167.4,147.9 167.6,146.1 167.7,146.4 167.8,144.6 168.0,144.1 168.3,143.9 168.5,143.0 168.8,142.2 169.1,142.3 169.3,141.6 169.6,140.8 170.4,140.4 171.1,140.1 171.9,140.3 172.7,140.3 173.5,140.5 174.2,140.9 175.0,140.4 175.6,140.6 176.2,141.2 176.8,142.6 177.4,142.6 178.0,143.1 178.6,143.6 179.1,144.1 179.7,144.3 180.3,145.3 180.9,145.5 181.4,144.1 182.0,145.9 182.7,147.9 183.3,146.2 184.0,147.3 184.7,148.2 185.3,148.1 186.0,149.2 186.7,148.3 187.3,148.7 188.0,149.7 188.7,149.8 189.3,150.0 190.0,151.3 190.7,151.4 191.4,151.6 192.1,151.7 192.8,152.3 193.5,152.4 193.9,151.5 194.3,151.5 194.8,150.8 195.2,150.0 195.2,149.6 195.3,147.9 195.3,147.7 195.4,146.7 195.4,146.9 195.5,145.8 195.6,145.8 195.6,144.8 195.7,143.1 195.7,142.0 195.8,142.0 195.8,140.9 196.1,141.6 196.5,141.8 196.8,143.3 197.0,143.8 197.2,144.6 197.4,145.3 197.6,145.4 197.7,145.5 197.9,147.2 198.1,147.7 198.3,148.5 198.5,150.0 198.8,150.2 199.0,151.7 199.3,151.7 199.6,152.7 199.8,153.3 200.1,154.2 200.3,153.9 200.6,155.7 200.8,156.0 201.1,156.1 201.3,157.6 201.5,158.2 201.8,159.3 202.0,159.8 202.2,160.3 202.5,160.0 202.7,162.3 202.9,163.0 203.1,163.4 203.2,164.0 203.4,165.1 203.6,164.8 203.8,166.4 203.9,166.8 203.9,167.0 204.0,168.4 204.1,169.2 204.1,170.6 204.2,171.0 204.2,170.4 204.3,171.0 204.4,172.7 204.5,173.3 204.6,173.7 204.7,174.2 204.8,175.5 205.0,175.8 205.1,176.7 205.2,178.2 205.3,178.7 205.4,178.9 205.5,179.4 205.7,180.6 205.8,182.3 206.0,181.8 206.1,183.6 206.3,183.1 206.4,184.0 206.6,185.2 206.7,185.2 206.9,186.3 207.0,186.2 207.2,187.9 207.3,188.9 207.5,188.7 207.7,189.8 207.9,190.2 208.1,190.0 208.3,193.1 208.5,192.8 208.7,193.5 208.9,194.0 209.2,194.6 209.4,196.4 209.6,195.0 209.8,196.4 210.0,197.0 210.2,197.8 210.4,199.0 210.6,199.0 210.8,199.3 211.1,200.1 211.3,201.6 211.6,202.5 211.9,203.1 212.2,204.2 212.4,203.9 212.7,205.3 213.0,205.8 213.2,206.1 213.5,206.5 213.8,208.0 214.1,207.9 214.3,208.8 214.6,209.1 214.9,211.1 215.3,210.8 215.6,211.2 216.0,212.0 216.3,212.6 216.7,213.4 217.0,213.2 217.3,214.1 217.7,215.4 218.0,216.2 218.4,216.1 218.7,217.1 219.1,217.5 219.4,217.7 219.9,218.7 220.5,219.1 221.0,220.0 221.5,220.3 222.0,220.9 222.6,221.2 223.1,221.9 223.6,222.3 224.1,223.0 224.7,223.5 225.2,224.0 225.9,224.2 226.6,224.4 227.3,224.6 227.9,224.9 228.6,225.1 229.3,225.3 230.0,225.5" fill="none" stroke="#000" stroke-width="2.7" stroke-linejoin="round" stroke-linecap="round"/>
<polyline points="351.5,226.3 352.2,226.2 353.0,226.1 353.8,225.9 354.5,225.8 355.2,225.7 356.0,225.6 356.8,225.4 357.5,225.2 358.3,224.9 359.0,224.7 359.8,224.5 360.4,224.2 361.1,223.9 361.8,223.4 362.4,223.1 363.1,222.8 363.7,222.3 364.2,221.6 364.7,220.9 365.2,220.6 365.7,220.0 366.2,219.3 366.7,218.8 367.2,217.7 367.5,217.5 367.9,217.0 368.2,216.6 368.5,215.1 368.8,214.6 369.2,212.9 369.5,213.2 369.7,211.2 370.0,211.1 370.2,212.1 370.5,209.1 370.7,210.5 371.0,209.4 371.2,208.3 371.4,208.1 371.5,207.4 371.7,207.1 371.9,205.5 372.1,204.5 372.2,203.8 372.4,202.8 372.6,202.7 372.7,201.5 372.9,202.1 373.1,199.3 373.2,199.2 373.4,198.5 373.6,197.0 373.8,199.1 373.9,195.4 374.1,196.1 374.3,195.3 374.4,196.1 374.6,192.8 374.8,194.2 375.0,192.3 375.1,192.0 375.3,190.9 375.5,191.1 375.7,189.2 375.8,189.2 376.0,188.8 376.2,189.1 376.4,185.5 376.5,187.5 376.7,186.4 376.9,184.7 377.1,184.5 377.2,183.3 377.4,184.1 377.6,182.4 377.8,181.4 377.9,180.6 378.1,180.0 378.3,179.3 378.5,178.1 378.7,179.4 378.8,175.9 379.0,174.1 379.2,175.8 379.4,175.1 379.5,174.7 379.7,173.6 379.9,173.0 380.1,172.6 380.2,172.3 380.4,170.6 380.6,170.0 380.8,170.9 380.9,169.2 381.1,167.4 381.3,169.0 381.5,167.3 381.6,165.6 381.8,164.5 382.0,164.8 382.2,163.3 382.4,162.5 382.5,161.6 382.7,161.4 382.9,161.9 383.1,160.1 383.2,158.7 383.4,159.4 383.6,158.3 383.8,158.1 383.9,157.7 384.1,156.0 384.3,155.3 384.5,154.7 384.6,153.2 384.8,153.8 385.0,153.6 385.2,152.0 385.3,151.0 385.5,150.3 385.7,149.3 385.9,148.5 386.0,148.1 386.2,147.1 386.4,146.7 386.6,145.2 386.7,145.8 386.9,144.9 387.1,143.3 387.2,141.8 387.4,142.7 387.6,142.8 387.8,140.8 387.9,140.3 388.1,139.5 389.4,140.4 389.8,140.0 390.2,142.0 390.7,141.8 391.1,143.4 391.5,143.5 392.0,144.0 392.4,143.7 392.9,144.9 393.4,145.9 393.8,147.1 394.3,147.5 394.7,147.4 395.0,148.8 395.4,149.8 395.8,149.7 396.1,150.1 396.5,150.7 397.0,152.2 397.4,152.6 397.9,152.2 398.4,153.7 398.8,153.7 399.3,154.2 399.7,156.1 400.2,156.4 400.6,155.9 401.1,157.0 401.5,157.9 402.2,157.6 402.9,158.5 403.5,159.5 404.2,158.3 405.0,160.1 405.7,160.7 406.5,160.9 407.1,160.0 407.8,161.5 408.5,161.1 409.1,162.5 409.7,163.1 410.3,163.5 410.9,163.4 411.5,164.1 412.0,165.6 412.5,164.9 413.1,166.3 413.6,166.9 414.1,166.8 414.6,169.3 415.0,168.3 415.5,170.4 416.0,168.1 416.4,168.6 416.9,171.4 417.3,171.8 417.8,171.8 418.0,172.6 418.3,172.0 418.5,173.5 418.8,173.9 419.0,175.1 419.3,176.6 419.5,176.7 419.8,177.5 420.0,177.5 420.3,178.3 420.5,179.3 420.8,179.7 421.0,181.5 421.3,180.6 421.5,183.2 421.7,181.9 421.9,184.0 422.1,183.4 422.3,185.8 422.5,185.4 422.7,186.3 422.9,187.2 423.1,186.9 423.4,187.3 423.6,187.3 423.8,190.3 424.0,189.6 424.2,190.4 424.4,191.4 424.6,193.5 424.8,191.6 425.0,193.7 425.2,193.9 425.4,195.3 425.6,194.4 425.7,196.0 425.9,197.6 426.1,198.8 426.3,199.6 426.4,198.6 426.6,199.9 426.8,200.5 427.0,200.3 427.2,201.0 427.3,203.2 427.5,203.6 427.7,204.0 427.9,205.6 428.2,204.7 428.4,206.4 428.7,206.7 428.9,207.4 429.2,208.4 429.4,208.8 429.7,209.6 429.9,210.2 430.2,212.1 430.4,211.1 430.7,212.7 430.9,213.1 431.2,213.1 431.4,214.5 431.8,214.1 432.1,215.9 432.5,215.4 432.9,216.2 433.2,217.2 433.6,218.0 434.0,218.6 434.4,219.2 434.7,219.4 435.1,219.8 435.7,220.6 436.3,220.9 436.9,221.0 437.5,221.8 438.1,222.0 438.8,222.2 439.4,222.7 440.0,222.9 440.6,223.4 441.2,223.8 441.9,224.0 442.6,224.3 443.3,224.5 443.9,224.8 444.6,225.1 445.3,225.3 446.0,225.6 446.7,225.7 447.5,225.8 448.2,225.9 448.9,226.0 449.6,226.1 450.4,226.2 451.1,226.3" fill="none" stroke="#000" stroke-width="2.7" stroke-linejoin="round" stroke-linecap="round"/>
<polyline points="130.5,361.8 131.0,361.8 131.5,361.7 132.0,361.7 132.5,361.6 133.0,361.6 133.5,361.6 134.0,361.5 134.5,361.5 134.6,361.0 134.6,360.5 134.7,359.9 134.7,359.5 134.8,359.1 134.8,358.7 134.9,358.3 134.9,358.8 135.0,357.6 135.1,355.3 135.1,356.2 135.2,354.9 135.2,354.5 135.3,356.0 135.3,353.7 135.4,350.9 135.4,353.4 135.5,352.1 135.6,350.1 135.6,349.9 135.7,349.9 135.8,350.5 135.9,349.2 135.9,349.6 136.0,352.9 136.1,346.7 136.1,346.2 136.2,347.0 136.3,349.4 136.4,344.9 136.4,349.2 136.5,342.6 136.5,342.7 136.6,344.4 136.6,342.1 136.7,342.1 136.7,344.0 136.8,344.1 136.8,342.3 136.8,340.9 136.9,344.0 136.9,341.4 137.0,339.5 137.0,342.2 137.0,337.0 137.1,338.9 137.1,339.5 137.2,337.5 137.2,335.7 137.2,337.3 137.3,334.8 137.3,334.2 137.4,332.7 137.4,337.4 137.5,332.8 137.5,336.0 137.6,334.8 137.6,333.9 137.7,336.5 137.8,336.1 137.9,336.3 137.9,333.5 138.0,337.2 138.1,339.5 138.1,339.1 138.2,340.7 138.3,342.3 138.4,340.4 138.4,344.3 138.5,337.2 138.8,340.5 139.0,335.9 139.2,343.8 139.5,342.7 139.8,346.7 140.0,342.7 140.2,338.5 140.3,345.3 140.5,339.0 140.7,338.7 140.8,340.6 141.0,341.9 141.2,338.9 141.3,339.9 141.5,334.9 141.7,342.3 141.8,337.9 142.0,337.8 142.4,338.4 142.8,337.1 143.2,336.8 143.6,333.9 144.0,335.3 144.4,336.2 144.6,337.0 144.8,333.9 144.9,333.8 145.1,333.9 145.3,333.8 145.5,332.5 145.6,331.0 145.8,329.9 146.0,333.0 146.2,330.6 146.5,329.5 146.8,336.7 147.0,330.4 147.2,329.9 147.5,327.8 147.8,324.8 148.0,329.0 148.2,325.8 148.3,325.6 148.5,327.3 148.6,326.7 148.8,324.5 148.9,323.5 149.1,327.6 149.2,323.8 149.4,319.7 149.6,323.2 149.7,321.3 149.9,320.6 150.0,321.5 150.2,320.0 150.3,323.4 150.5,318.9 150.6,318.6 150.8,320.1 150.9,315.8 151.1,318.7 151.2,315.9 151.4,318.1 151.5,313.1 151.6,315.4 151.8,310.5 151.9,312.5 152.1,313.0 152.2,313.6 152.4,316.3 152.5,315.5 152.7,308.1 152.8,308.8 152.9,312.8 153.1,310.5 153.2,306.0 153.4,309.6 153.6,305.5 153.7,305.6 153.8,304.2 154.0,305.9 154.1,310.9 154.2,306.3 154.4,304.8 154.5,310.0 154.6,303.0 154.8,303.2 154.9,302.4 155.0,303.4 155.1,301.3 155.2,304.7 155.4,300.4 155.5,301.7 155.6,300.5 155.8,297.6 155.9,296.9 156.0,298.4 156.1,293.0 156.2,297.5 156.4,297.2 156.5,296.8 156.6,295.8 156.8,296.3 156.9,294.2 157.0,295.9 157.3,290.5 157.6,295.7 158.0,291.4 158.3,294.0 158.6,291.5 158.8,292.1 158.9,291.8 159.1,296.9 159.2,292.1 159.4,292.4 159.6,296.0 159.7,296.6 159.9,296.6 160.0,294.9 160.2,296.1 160.3,300.0 160.5,296.2 160.7,300.3 160.8,301.1 160.9,300.3 161.1,297.8 161.2,305.2 161.4,301.8 161.6,302.4 161.7,301.7 161.8,300.9 162.0,302.9 162.5,304.2 163.0,302.2 163.5,304.5 164.0,307.0 164.4,305.1 164.8,303.5 165.2,305.6 165.6,304.9 166.0,304.5 166.3,301.2 166.6,299.4 166.9,305.5 167.1,304.4 167.4,303.8 167.7,306.1 168.0,304.5 168.4,303.7 168.8,308.7 169.2,300.8 169.6,305.7 170.0,305.7 170.6,307.5 171.2,304.2 171.8,304.8 172.2,301.3 172.6,303.0 173.0,297.9 173.4,300.9 173.8,301.6 174.2,301.1 174.6,299.9 174.7,303.0 174.9,296.4 175.0,299.7 175.1,298.1 175.3,298.5 175.4,298.1 175.5,301.8 175.6,294.7 175.8,299.5 175.9,299.1 176.0,295.3 176.2,293.7 176.3,291.9 176.4,292.2 176.6,298.1 176.7,288.4 176.8,293.6 176.9,290.6 176.9,295.7 177.0,291.8 177.1,287.6 177.2,288.9 177.3,290.0 177.4,289.3 177.4,286.5 177.5,287.4 177.6,286.5 177.7,288.1 177.8,287.1 177.9,286.5 177.9,284.2 178.0,286.7 178.1,283.3 178.2,282.2 178.2,282.6 178.3,282.3 178.3,281.8 178.4,277.8 178.4,284.5 178.5,282.4 178.6,283.4 178.6,279.1 178.7,281.1 178.7,279.4 178.8,278.6 178.8,281.9 178.9,276.2 178.9,278.3 179.0,272.7 179.5,277.7 180.0,276.1 180.1,274.8 180.1,276.2 180.2,273.4 180.2,276.2 180.3,279.4 180.4,273.7 180.4,282.4 180.5,282.6 180.6,279.4 180.6,278.3 180.7,278.9 180.8,279.7 180.8,281.4 180.9,288.3 180.9,281.5 181.0,286.2 181.1,287.7 181.2,283.4 181.2,285.4 181.3,288.0 181.4,285.6 181.5,290.3 181.6,292.8 181.7,288.4 181.7,287.3 181.8,290.9 181.9,290.8 182.0,288.9 182.1,290.8 182.2,291.8 182.2,293.2 182.3,295.1 182.4,292.0 182.8,290.0 183.2,289.0 183.7,296.3 184.1,291.1 184.5,290.8 184.5,297.6 184.5,295.2 184.5,298.2 184.6,293.4 184.6,292.7 184.6,293.6 184.6,296.7 184.6,296.7 184.6,297.2 184.7,301.8 184.7,300.3 184.7,295.5 184.7,299.3 184.7,300.2 184.7,297.8 184.8,305.0 184.8,302.4 184.8,304.3 184.8,300.3 184.8,299.4 184.8,304.1 184.8,302.5 184.9,302.2 184.9,303.8 184.9,305.0 184.9,305.3 184.9,305.1 184.9,307.1 185.0,312.9 185.0,309.7 185.0,306.5 185.0,312.6 185.1,307.5 185.2,305.7 185.3,306.6 185.3,305.6 185.4,313.2 185.5,308.7 185.6,308.5 185.7,310.9 185.8,312.2 185.9,310.4 185.9,312.4 186.0,314.1 186.1,316.1 186.2,313.1 186.3,316.9 186.4,316.7 186.5,317.9 186.5,316.0 186.6,315.1 186.7,320.3 186.8,320.0 187.0,317.7 187.1,318.0 187.3,321.7 187.4,325.1 187.6,322.0 187.7,327.2 187.9,322.9 188.0,323.4 188.2,324.3 188.3,326.1 188.5,320.9 188.7,325.0 188.9,327.9 189.1,322.2 189.3,326.6 189.5,328.3 189.7,330.9 189.8,331.0 190.0,328.0 190.2,333.1 190.4,326.6 190.6,326.4 190.8,332.9 191.0,332.0 191.3,328.4 191.6,333.8 191.8,333.8 192.1,333.9 192.4,331.8 192.7,330.4 193.0,329.9 193.3,333.6 193.5,334.2 193.8,333.9 194.1,334.3 194.5,337.3 195.0,332.5 195.4,333.1 195.9,338.9 196.3,332.9 196.8,332.6 197.2,336.2 197.7,329.6 198.1,336.9 198.6,330.3 198.8,331.7 198.9,331.2 199.1,332.4 199.2,333.4 199.4,337.6 199.5,335.9 199.7,339.5 199.9,338.7 200.0,334.7 200.2,338.0 200.3,337.1 200.5,338.0 200.6,339.7 200.8,340.7 201.0,341.3 201.2,336.2 201.4,341.0 201.5,340.8 201.7,346.5 201.9,342.3 202.1,343.3 202.3,343.9 202.4,346.1 202.6,342.3 202.8,345.0 203.0,345.5 203.2,346.3 203.4,346.2 203.6,346.1 203.7,348.0 203.9,345.4 204.1,352.3 204.4,349.2 204.6,345.9 204.9,349.5 205.1,352.3 205.4,350.6 205.7,351.1 205.9,348.0 206.2,354.4 206.5,352.8 206.7,350.3 207.0,352.9 207.2,355.8 207.5,354.8 208.0,352.9 208.4,354.2 208.9,355.2 209.4,357.3 209.8,355.6 210.3,356.3 210.8,355.5 211.2,356.0 211.7,355.4 212.2,355.3 212.6,355.6 213.1,356.4 213.6,357.8 214.1,357.0 214.6,357.9 215.1,357.7 215.6,357.4 216.2,357.1 216.7,358.8 217.2,358.3 217.7,358.4 218.2,359.2 218.7,358.8 219.1,358.3 219.6,358.6 220.0,358.9 220.5,359.6 220.9,358.8 221.4,358.9 221.8,359.4 222.3,359.8 222.8,359.9 223.2,360.3 223.7,360.4 224.3,360.4 224.8,360.5 225.4,360.7 225.9,360.8 226.5,360.9 227.0,361.0 227.2,360.5 227.5,359.9 227.8,359.1 228.0,359.5 228.2,358.9 228.5,358.3 228.8,359.1 229.0,359.5 229.2,359.6 229.5,360.0 229.8,360.5 230.0,361.0 230.5,361.0 231.0,361.1 231.5,361.1 232.0,361.1 232.5,361.2 233.0,361.2 233.5,361.2 234.0,361.3 234.5,361.3 235.0,361.4 235.5,361.4 236.0,361.4 236.5,361.5 237.0,361.5 237.5,361.5 238.0,361.6 238.5,361.6 239.0,361.6 239.5,361.7 240.0,361.7 240.5,361.7 241.0,361.7 241.5,361.7 242.0,361.7 242.5,361.7 243.0,361.7 243.5,361.7 244.0,361.8 244.5,361.8 245.0,361.8 245.5,361.8 246.0,361.8 246.5,361.8 247.0,361.8 247.5,361.8 248.0,361.8 248.5,361.8 249.0,361.8 249.5,361.8 250.0,361.8 250.5,361.8 251.0,361.8 251.5,361.9 252.0,361.9 252.5,361.9 253.0,361.9 253.5,361.9 254.0,361.9 254.5,361.9 255.0,361.9 255.6,361.9 256.1,361.9 256.6,361.9 257.1,361.9 257.6,361.9 258.1,361.9 258.6,361.9 259.1,361.9 259.6,362.0 260.1,362.0 260.6,362.0 261.1,362.0 261.6,362.0 262.1,362.0 262.6,362.0 263.1,362.0 263.6,362.0 264.1,362.0 264.6,362.0 265.1,362.0 265.6,362.0 266.1,362.0 266.6,362.0 267.1,362.1 267.6,362.1 268.1,362.1 268.6,362.1 269.1,362.1 269.6,362.1 270.1,362.1 270.6,362.1 270.7,361.6 270.9,361.1 271.0,360.6 271.2,360.0 271.3,359.4 271.5,359.4 271.6,357.6 271.8,357.7 271.9,357.9 272.0,357.9 272.2,358.3 272.3,359.4 272.5,359.3 272.6,360.0 272.8,360.6 272.9,361.1 273.1,361.6 273.2,362.1 273.8,362.1 274.3,362.1 274.9,362.0 275.4,362.0 276.0,362.0" fill="none" stroke="#000" stroke-width="2.1" stroke-linejoin="round" stroke-linecap="round"/>
<polyline points="130.5,361.8 131.2,361.8 131.8,361.7 132.5,361.6 133.2,361.6 133.8,361.6 134.5,361.5 134.6,360.9 134.6,360.3 134.7,359.3 134.8,359.7 134.8,359.1 134.9,357.1 135.0,359.7 135.0,357.7 135.1,354.6 135.2,355.0 135.2,353.2 135.3,353.8 135.4,355.0 135.4,352.5 135.5,357.6 135.6,358.8 135.7,351.1 135.8,352.6 135.9,344.7 136.0,351.6 136.0,348.3 136.1,348.4 136.2,347.2 136.3,348.9 136.4,352.4 136.5,346.3 136.6,344.7 136.6,342.7 136.7,344.1 136.7,351.5 136.8,341.5 136.8,338.8 136.8,333.8 136.9,336.6 136.9,340.4 137.0,343.7 137.1,342.3 137.1,338.6 137.2,338.0 137.2,339.8 137.2,334.0 137.3,337.9 137.3,337.6 137.4,332.9 137.4,339.8 137.5,334.2 137.6,339.2 137.7,332.1 137.8,334.6 137.9,338.7 138.0,336.8 138.0,336.1 138.1,341.3 138.2,339.9 138.3,339.6 138.4,343.2 138.5,344.6 138.8,347.6 139.1,338.9 139.4,342.4 139.7,342.1 140.0,345.8 140.2,344.0 140.4,337.1 140.6,343.4 140.8,334.4 141.0,338.2 141.2,338.1 141.4,337.9 141.6,339.5 141.8,335.8 142.0,340.1 142.5,339.7 143.0,333.6 143.4,339.2 143.9,337.8 144.4,332.3 144.6,339.2 144.8,336.1 145.0,330.0 145.2,331.1 145.4,329.6 145.6,330.7 145.8,336.4 146.0,331.1 146.3,326.1 146.6,334.4 146.9,326.4 147.1,327.8 147.4,326.3 147.7,328.4 148.0,326.2 148.2,326.3 148.4,326.7 148.6,326.7 148.8,328.2 149.0,322.0 149.2,322.2 149.3,323.7 149.5,326.3 149.7,320.1 149.9,322.3 150.1,320.5 150.3,316.9 150.5,321.6 150.7,319.8 150.8,317.3 151.0,316.5 151.2,314.8 151.3,314.2 151.5,317.3 151.7,312.0 151.8,312.4 152.0,315.5 152.2,313.4 152.3,312.5 152.5,308.0 152.7,310.8 152.9,311.1 153.1,310.9 153.2,302.6 153.4,310.6 153.6,311.9 153.8,308.7 154.0,308.8 154.2,304.9 154.3,302.7 154.4,307.5 154.6,304.2 154.8,304.2 154.9,306.7 155.1,307.4 155.2,296.2 155.3,303.8 155.5,302.9 155.7,304.3 155.8,299.7 155.9,301.5 156.1,297.8 156.2,286.5 156.4,302.3 156.6,295.8 156.7,298.9 156.8,297.9 157.0,294.2 157.4,291.6 157.8,291.0 158.2,292.2 158.6,290.4 158.8,288.5 159.0,292.9 159.2,292.4 159.4,297.2 159.6,295.7 159.7,295.0 159.9,296.8 160.1,296.6 160.3,292.8 160.5,297.3 160.7,295.7 160.9,303.0 161.1,299.7 161.2,297.0 161.4,305.8 161.6,299.1 161.8,300.9 162.0,301.6 162.7,304.6 163.3,303.8 164.0,307.5 164.5,305.0 165.0,300.5 165.5,302.4 166.0,304.1 166.3,304.2 166.7,301.0 167.0,303.3 167.3,305.1 167.7,304.3 168.0,302.8 168.5,304.0 169.0,307.2 169.5,303.7 170.0,306.3 170.6,302.5 171.2,305.9 171.8,305.6 172.3,296.3 172.7,301.0 173.2,302.0 173.7,303.3 174.1,303.7 174.6,306.9 174.8,295.9 174.9,300.8 175.1,300.0 175.2,302.6 175.4,295.5 175.6,292.8 175.7,297.1 175.9,294.4 176.1,294.9 176.2,295.6 176.4,293.9 176.5,293.2 176.7,293.7 176.8,294.3 176.9,292.5 177.0,294.5 177.1,296.8 177.2,286.1 177.3,287.9 177.4,290.9 177.5,284.8 177.6,288.1 177.7,289.1 177.8,289.1 177.9,287.4 178.0,287.7 178.1,277.1 178.2,282.8 178.2,281.5 178.3,284.8 178.4,278.3 178.4,275.8 178.5,281.2 178.6,275.9 178.7,283.1 178.7,275.5 178.8,280.2 178.9,277.2 178.9,279.2 179.0,275.9 180.0,270.7 180.1,279.1 180.2,278.7 180.2,281.6 180.3,272.0 180.4,273.6 180.5,275.8 180.5,273.4 180.6,278.2 180.7,278.9 180.8,282.3 180.8,288.9 180.9,276.9 181.0,285.3 181.1,286.7 181.2,284.8 181.3,287.7 181.4,288.7 181.5,290.6 181.6,293.7 181.7,287.9 181.8,288.6 181.9,292.4 182.0,289.0 182.1,296.9 182.2,291.3 182.3,293.9 182.4,298.1 182.9,289.4 183.4,289.5 184.0,290.8 184.5,293.6 184.5,295.2 184.5,290.0 184.6,298.1 184.6,296.3 184.6,300.1 184.6,302.1 184.6,293.0 184.6,297.2 184.7,296.0 184.7,296.5 184.7,295.4 184.7,300.2 184.7,299.9 184.8,295.3 184.8,298.2 184.8,299.5 184.8,302.1 184.8,306.4 184.9,304.5 184.9,303.3 184.9,305.1 184.9,307.3 184.9,303.1 184.9,305.6 185.0,305.6 185.0,311.7 185.0,307.5 185.1,313.1 185.2,310.5 185.3,312.3 185.4,311.4 185.5,306.0 185.6,307.8 185.7,311.7 185.8,312.7 186.0,315.2 186.1,311.9 186.2,316.8 186.3,312.4 186.4,315.1 186.5,316.2 186.6,317.1 186.7,315.9 186.8,318.4 187.0,315.5 187.2,320.2 187.4,314.4 187.6,324.3 187.7,326.7 187.9,322.7 188.1,323.8 188.3,323.8 188.5,328.5 188.7,326.3 189.0,329.2 189.2,324.0 189.4,333.8 189.6,324.7 189.9,323.6 190.1,331.4 190.3,329.8 190.5,331.9 190.8,324.6 191.0,334.1 191.3,335.9 191.7,329.2 192.0,338.0 192.4,328.8 192.7,334.9 193.1,332.9 193.4,328.7 193.8,332.2 194.1,334.5 194.7,341.1 195.2,334.2 195.8,329.4 196.3,335.7 196.9,337.8 197.4,329.9 198.0,335.2 198.6,328.9 198.8,333.0 199.0,338.0 199.2,338.2 199.4,336.5 199.6,338.2 199.8,333.2 200.0,339.9 200.2,332.3 200.4,334.8 200.6,336.5 200.8,342.7 201.0,335.3 201.2,339.3 201.5,344.1 201.7,343.3 201.9,343.6 202.1,344.3 202.3,347.2 202.6,342.9 202.8,347.3 203.0,348.0 203.2,348.0 203.4,349.9 203.7,343.4 203.9,347.0 204.1,350.4 204.4,347.9 204.8,354.6 205.1,351.4 205.5,348.7 205.8,353.6 206.1,354.3 206.5,354.0 206.8,355.6 207.2,354.6 207.5,355.5 208.1,355.5 208.6,355.3 209.2,353.6 209.7,354.8 210.3,356.1 210.9,357.4 211.4,355.8 212.0,355.4 212.5,355.9 213.1,357.4 213.7,355.9 214.3,356.8 215.0,356.8 215.6,358.0 216.2,356.1 216.8,358.3 217.5,358.3 218.1,356.7 218.7,357.7 219.3,358.3 219.8,359.2 220.4,359.1 220.9,359.6 221.5,358.8 222.1,360.1 222.6,359.8 223.2,360.1 223.8,360.3 224.5,360.4 225.1,360.6 225.7,360.7 226.4,360.9 227.0,361.0 227.3,360.3 227.6,360.0 227.9,359.1 228.2,358.9 228.5,357.9 228.8,358.7 229.1,359.5 229.4,359.5 229.7,360.5 230.0,361.0 230.6,361.0 231.2,361.1 231.9,361.1 232.5,361.2 233.1,361.2 233.8,361.3 234.4,361.3 235.0,361.4 235.6,361.4 236.2,361.4 236.9,361.5 237.5,361.5 238.1,361.6 238.8,361.6 239.4,361.7 240.0,361.7 240.6,361.7 241.2,361.7 241.8,361.7 242.4,361.7 243.0,361.7 243.6,361.7 244.2,361.8 244.8,361.8 245.4,361.8 246.0,361.8 246.6,361.8 247.2,361.8 247.8,361.8 248.4,361.8 249.0,361.8 249.6,361.8 250.2,361.8 250.8,361.8 251.4,361.8 252.0,361.9 252.6,361.9 253.2,361.9 253.8,361.9 254.4,361.9 255.0,361.9 255.6,361.9 256.2,361.9 256.8,361.9 257.4,361.9 258.0,361.9 258.6,361.9 259.2,362.0 259.8,362.0 260.4,362.0 261.0,362.0 261.6,362.0 262.2,362.0 262.8,362.0 263.4,362.0 264.0,362.0 264.6,362.0 265.2,362.0 265.8,362.0 266.4,362.0 267.0,362.1 267.6,362.1 268.2,362.1 268.8,362.1 269.4,362.1 270.0,362.1 270.6,362.1 270.8,361.4 271.0,360.8 271.2,360.1 271.3,359.8 271.5,358.2 271.7,358.5 271.9,356.8 272.1,357.6 272.3,358.4 272.5,359.7 272.6,360.0 272.8,360.8 273.0,361.4 273.2,362.1 273.9,362.1 274.6,362.1 275.3,362.0 276.0,362.0" fill="none" stroke="#000" stroke-width="1.5" stroke-linejoin="round" stroke-linecap="round"/>
<polyline points="347.5,361.9 348.0,361.8 348.6,361.7 349.1,361.6 349.6,361.5 350.1,361.4 350.7,361.3 351.2,361.2 351.7,361.1 352.3,361.0 352.8,360.9 352.8,360.4 352.9,359.8 352.9,359.1 352.9,358.9 353.0,357.7 353.0,357.6 353.0,357.8 353.0,356.8 353.1,355.9 353.1,357.9 353.1,355.3 353.2,354.0 353.2,354.4 353.2,352.9 353.3,352.6 353.3,352.1 353.3,355.4 353.3,351.6 353.4,351.4 353.4,351.9 353.4,354.1 353.5,349.0 353.5,347.6 353.7,354.8 354.0,347.0 354.2,349.7 354.4,352.2 354.7,355.5 354.9,350.3 355.1,348.4 355.4,353.8 355.6,352.6 355.7,352.2 355.8,353.0 356.0,352.2 356.1,351.8 356.2,350.0 356.3,352.9 356.5,352.9 356.6,349.4 356.7,347.8 356.8,349.9 357.0,348.9 357.1,345.0 357.2,345.8 357.3,348.6 357.5,345.6 357.6,344.6 357.7,345.3 357.9,345.2 358.2,345.7 358.4,342.0 358.6,350.5 358.9,347.6 359.1,345.7 359.3,350.2 359.6,349.2 359.8,349.0 360.0,351.7 360.3,354.6 360.5,351.5 360.6,353.1 360.6,354.0 360.7,346.6 360.8,347.2 360.8,349.5 360.9,343.6 361.0,346.2 361.0,349.1 361.1,348.1 361.2,346.5 361.2,340.6 361.3,349.4 361.4,344.9 361.5,344.9 361.5,343.8 361.6,338.4 361.7,338.5 361.7,338.5 361.8,344.9 361.9,338.3 361.9,339.1 362.0,338.5 362.2,339.9 362.4,339.3 362.6,338.3 362.7,334.5 362.9,329.9 363.1,336.7 363.3,336.4 363.5,338.1 363.7,334.7 363.9,333.1 364.1,334.9 364.2,330.1 364.4,330.7 364.6,330.4 364.8,332.7 365.0,336.2 365.1,332.7 365.3,333.0 365.4,330.5 365.6,330.1 365.7,328.0 365.9,327.8 366.0,322.6 366.2,324.8 366.7,324.2 367.1,328.6 367.6,327.9 367.8,328.4 367.9,328.8 368.1,324.2 368.2,326.6 368.4,328.1 368.5,323.2 368.7,325.1 368.8,321.9 369.0,318.2 369.3,321.5 369.6,319.0 369.8,320.6 370.1,318.8 370.4,320.1 370.6,314.2 370.8,323.0 370.9,321.0 371.1,316.7 371.5,315.1 371.8,316.7 372.1,317.8 372.5,316.8 372.9,316.4 373.2,310.8 373.7,312.9 374.2,318.7 374.7,316.6 375.0,312.3 375.2,313.2 375.5,311.5 375.7,311.9 376.0,316.3 376.0,313.7 376.1,317.2 376.1,315.6 376.2,312.4 376.2,314.8 376.3,321.9 376.3,315.6 376.4,315.4 376.4,321.0 376.5,319.0 376.5,319.3 376.5,323.1 376.6,316.4 376.6,321.8 376.7,319.0 376.7,318.7 376.8,320.5 376.8,325.4 376.9,323.1 376.9,319.8 377.0,321.9 377.0,328.3 377.0,326.7 377.0,321.4 377.1,328.8 377.1,322.1 377.1,319.7 377.1,321.6 377.1,323.5 377.2,324.5 377.2,322.7 377.2,318.9 377.2,318.1 377.2,315.6 377.2,318.2 377.3,316.6 377.3,318.0 377.3,314.1 377.3,315.2 377.3,313.9 377.4,312.7 377.4,312.2 377.4,312.1 377.4,311.2 377.4,314.7 377.5,313.1 377.5,309.4 377.5,313.1 377.7,312.1 378.0,314.2 378.2,310.0 378.4,309.5 378.7,308.0 378.9,309.3 379.1,309.7 379.4,308.5 379.6,307.1 379.8,308.4 380.1,306.9 380.3,306.8 380.6,303.7 380.9,305.8 381.1,302.7 381.4,302.6 381.7,304.4 382.0,308.4 382.3,305.4 382.5,302.8 382.8,301.9 383.1,304.1 383.5,305.4 383.9,305.4 384.2,302.7 384.6,303.9 385.0,303.2 385.4,303.5 385.9,302.5 386.4,304.1 386.8,300.1 386.8,302.7 386.8,306.9 386.8,304.3 386.9,308.1 386.9,304.5 386.9,307.1 386.9,309.3 386.9,306.6 386.9,307.8 386.9,315.5 387.0,308.9 387.0,309.3 387.0,310.1 387.0,312.0 387.0,312.3 387.0,315.1 387.1,315.2 387.1,313.0 387.1,313.6 387.1,311.7 387.1,312.0 387.1,314.2 387.1,318.0 387.2,317.2 387.2,319.2 387.2,320.0 387.2,318.0 387.2,323.6 387.2,318.2 387.2,318.5 387.3,319.4 387.3,323.5 387.3,321.1 387.3,320.2 387.3,323.4 387.3,325.4 387.4,323.1 387.4,323.3 387.4,326.8 387.4,327.1 387.4,326.5 387.4,322.2 387.4,324.0 387.5,323.7 387.5,318.3 387.5,324.6 387.5,321.6 387.5,320.1 387.5,325.5 387.5,320.2 387.6,317.8 387.6,318.7 387.6,319.6 387.6,319.7 387.6,317.2 387.6,314.9 387.7,314.8 387.7,314.0 387.7,313.0 387.7,314.8 387.7,313.2 387.7,314.0 387.7,311.5 387.8,310.9 387.8,311.9 387.8,311.1 387.8,313.9 387.8,308.8 387.8,310.8 387.9,309.7 387.9,306.4 387.9,310.5 387.9,308.7 387.9,303.1 387.9,308.7 387.9,308.9 388.0,304.5 388.0,309.6 388.0,305.7 388.0,302.2 388.3,305.6 388.6,303.2 388.9,300.6 389.3,298.3 389.6,303.3 389.9,300.7 390.2,303.3 390.7,302.4 391.3,300.1 391.8,299.7 391.8,304.4 391.8,303.7 391.9,301.1 391.9,298.1 391.9,296.2 391.9,297.0 391.9,301.1 392.0,297.9 392.0,295.8 392.0,293.1 392.0,295.8 392.1,292.9 392.1,294.4 392.1,295.6 392.1,295.8 392.1,293.2 392.2,291.6 392.2,292.4 392.2,295.4 392.2,291.7 392.2,287.3 392.3,293.4 392.3,290.0 392.3,296.7 392.3,287.3 392.3,287.7 392.3,286.7 392.3,287.7 392.4,285.1 392.4,282.6 392.4,281.1 392.4,284.6 392.4,283.2 392.4,282.6 392.4,288.1 392.4,284.7 392.5,284.8 392.5,280.8 392.5,282.1 392.5,280.4 392.5,279.9 392.5,281.6 392.5,280.8 392.5,279.6 392.6,278.7 392.6,274.7 392.6,275.7 392.6,277.8 392.6,275.6 393.2,274.7 393.7,277.2 394.3,274.3 394.4,275.4 394.5,279.4 394.6,277.1 394.7,281.6 394.8,280.1 394.9,281.2 394.9,282.4 395.0,275.6 395.1,280.7 395.2,278.5 395.3,280.9 395.4,282.2 395.5,285.7 395.6,283.3 395.7,287.6 395.7,283.3 395.8,284.8 395.9,285.7 396.0,288.1 396.1,286.4 396.2,285.6 396.2,286.8 396.3,284.9 396.4,291.3 396.5,290.7 396.6,290.5 396.7,290.7 396.7,289.2 396.8,290.2 396.9,293.4 397.0,290.3 397.1,290.9 397.2,296.6 397.2,297.1 397.3,294.8 397.4,295.8 397.5,295.6 397.6,298.8 397.7,295.2 397.7,296.9 397.8,298.3 397.9,300.9 398.0,297.7 398.1,299.2 398.2,298.1 398.3,298.3 398.4,298.8 398.5,301.0 398.6,303.2 398.7,300.3 398.8,301.0 398.8,301.9 398.9,304.1 399.0,305.4 399.1,301.6 399.2,305.6 399.3,303.2 399.4,307.5 399.5,304.3 399.6,304.5 399.7,305.8 399.8,307.8 399.9,306.2 400.0,309.4 400.1,309.8 400.2,310.2 400.3,311.1 400.4,312.9 400.5,309.9 400.6,312.0 400.7,312.5 400.8,308.5 400.9,314.4 401.0,312.4 401.1,313.0 401.2,314.1 401.3,315.8 401.4,316.8 401.6,317.6 401.7,315.5 401.9,319.1 402.0,318.9 402.1,317.6 402.3,318.9 402.4,321.2 402.6,320.9 402.7,322.0 402.9,321.2 403.0,323.9 403.1,326.8 403.3,323.4 403.4,319.3 403.6,327.2 403.7,322.6 403.9,321.3 404.0,319.6 404.2,326.3 404.3,328.2 404.5,328.5 404.6,326.0 404.8,330.4 405.1,327.5 405.3,326.8 405.5,328.7 405.7,329.5 406.0,329.6 406.2,330.8 406.4,325.6 406.6,334.3 406.9,330.0 407.1,333.1 407.3,330.4 407.5,333.0 407.8,332.7 408.0,330.0 408.2,334.8 408.3,335.8 408.5,332.5 408.7,330.8 408.9,334.4 409.0,334.5 409.2,337.1 409.4,337.3 409.6,341.3 409.7,339.7 409.9,338.1 410.1,339.5 410.3,333.3 410.4,338.1 410.6,338.6 410.8,340.8 411.0,342.3 411.1,342.5 411.3,344.6 411.5,341.4 411.8,344.1 412.0,343.6 412.2,344.4 412.5,345.5 412.7,344.7 413.0,346.2 413.2,346.2 413.4,349.0 413.7,346.9 413.9,348.3 414.1,353.8 414.4,350.0 414.6,350.2 414.9,351.8 415.1,347.9 415.3,351.8 415.6,352.3 415.8,352.2 416.2,353.4 416.6,353.3 417.0,354.3 417.4,351.7 417.8,353.6 418.2,352.6 418.6,355.3 419.0,354.1 419.4,352.7 419.8,354.7 420.2,353.8 420.6,356.3 421.0,355.2 421.4,353.8 421.9,355.7 422.3,357.2 422.8,356.8 423.2,356.2 423.7,357.4 424.2,357.5 424.6,358.3 425.1,358.1 425.5,357.9 426.0,357.4 426.4,358.3 426.9,358.5 427.4,358.5 427.8,358.9 428.3,358.4 428.7,359.3 429.2,359.3 429.7,359.5 430.2,359.5 430.7,359.6 431.2,359.9 431.7,360.1 432.2,360.0 432.7,360.2 433.2,360.2 433.7,360.5 434.2,360.5 434.7,360.5 435.2,360.8 435.7,360.9 436.2,361.0 436.7,361.1 437.2,361.3 437.7,361.4 438.2,361.5 438.7,361.5 439.2,361.6 439.8,361.6 440.3,361.7 440.8,361.7 441.3,361.8 441.9,361.8 442.4,361.9 442.9,361.9 443.4,362.0 444.0,362.0 444.5,362.1 445.0,362.1 445.5,362.1 446.0,362.1 446.5,362.1 447.0,362.2 447.5,362.2 448.0,362.2 448.5,362.2 449.0,362.2 449.5,362.2 450.0,362.2 450.5,362.3 451.0,362.3 451.5,362.3 452.0,362.3 452.5,362.3 453.0,362.3 453.5,362.3 454.0,362.4 454.5,362.4 455.0,362.4 455.5,362.4 456.0,362.4 456.5,362.4 457.0,362.4 457.5,362.5 458.0,362.5 458.5,362.5 459.0,362.5 459.2,362.0 459.3,361.4 459.5,360.9 459.6,360.0 459.8,359.2 460.0,359.1 460.1,358.6 460.3,358.1 460.5,358.9 460.6,359.0 460.8,360.4 461.0,360.5 461.1,360.9 461.3,361.4 461.4,362.0 461.6,362.5 462.1,362.5 462.6,362.5 463.1,362.5 463.7,362.5 464.2,362.5 464.7,362.5 465.2,362.5 465.7,362.5 466.2,362.5 466.8,362.5 467.3,362.5 467.8,362.5 468.3,362.5 468.8,362.5 469.3,362.5 469.8,362.5 470.4,362.5 470.9,362.5 471.4,362.5 471.9,362.5 472.4,362.5 472.9,362.5 473.5,362.5 474.0,362.5 474.5,362.5 475.0,362.5 475.2,362.0 475.3,361.4 475.5,360.8 475.6,360.2 475.8,359.8 476.0,359.3 476.1,358.2 476.3,358.1 476.5,358.9 476.6,359.6 476.8,359.8 477.0,360.4 477.1,360.9 477.3,361.4 477.4,362.0 477.6,362.5 478.2,362.5 478.8,362.5 479.4,362.5 480.0,362.5" fill="none" stroke="#000" stroke-width="2.1" stroke-linejoin="round" stroke-linecap="round"/>
<polyline points="347.5,361.9 348.2,361.8 348.8,361.6 349.5,361.5 350.1,361.4 350.8,361.3 351.5,361.1 352.1,361.0 352.8,360.9 352.8,360.2 352.9,358.7 352.9,358.7 352.9,357.7 353.0,357.1 353.0,357.8 353.1,356.3 353.1,354.5 353.1,353.3 353.2,354.2 353.2,353.7 353.2,353.0 353.3,353.2 353.3,355.6 353.4,347.4 353.4,348.8 353.4,352.1 353.5,350.3 353.5,344.0 353.8,349.6 354.1,351.8 354.4,354.9 354.7,349.7 355.0,353.1 355.3,353.2 355.6,352.5 355.8,354.4 355.9,351.3 356.1,350.4 356.2,352.2 356.4,345.2 356.5,350.8 356.6,349.7 356.8,352.2 356.9,345.5 357.1,348.2 357.2,349.8 357.4,349.4 357.6,342.5 357.7,346.5 358.0,344.2 358.3,345.1 358.5,349.1 358.8,341.3 359.1,347.5 359.4,353.7 359.7,347.9 359.9,346.9 360.2,349.7 360.5,351.5 360.6,347.1 360.7,350.8 360.8,345.1 360.8,348.2 360.9,345.8 361.0,346.2 361.1,346.6 361.2,349.2 361.2,342.9 361.3,344.4 361.4,342.1 361.5,351.1 361.6,343.7 361.7,337.0 361.8,339.1 361.8,342.8 361.9,338.7 362.0,335.4 362.2,338.0 362.5,337.3 362.7,336.9 362.9,334.8 363.2,334.5 363.4,338.9 363.6,337.9 363.9,333.5 364.1,332.6 364.3,331.6 364.6,334.8 364.8,331.3 365.0,327.1 365.1,329.8 365.3,329.3 365.5,326.7 365.7,328.9 365.9,328.2 366.0,331.8 366.2,327.0 366.9,325.0 367.6,325.1 367.8,321.5 368.0,325.8 368.1,323.3 368.3,324.8 368.5,325.5 368.6,328.6 368.8,323.3 369.0,325.2 369.4,320.6 369.7,318.5 370.0,321.2 370.4,316.2 370.6,320.7 370.9,317.5 371.1,315.0 371.5,318.3 371.9,316.1 372.4,319.2 372.8,312.9 373.2,316.4 373.7,317.2 374.2,313.8 374.7,320.8 375.0,317.2 375.4,314.3 375.7,314.6 376.0,313.8 376.1,309.5 376.1,311.8 376.2,311.0 376.2,315.5 376.3,322.5 376.3,313.5 376.4,322.5 376.4,322.5 376.5,319.3 376.6,315.6 376.6,322.9 376.7,320.5 376.7,318.3 376.8,324.9 376.8,324.4 376.9,323.4 376.9,323.8 377.0,319.3 377.0,327.9 377.0,323.2 377.1,320.8 377.1,325.0 377.1,324.7 377.1,319.3 377.2,318.9 377.2,310.7 377.2,318.4 377.2,316.5 377.3,315.1 377.3,320.6 377.3,318.2 377.3,323.9 377.4,316.7 377.4,311.0 377.4,313.9 377.4,313.4 377.5,312.4 377.5,314.5 377.5,307.7 377.8,317.3 378.1,313.7 378.3,316.3 378.6,302.8 378.9,314.6 379.2,312.1 379.5,308.3 379.7,305.1 380.0,310.7 380.3,308.4 380.7,309.2 381.0,306.6 381.4,305.6 381.7,301.2 382.1,302.0 382.4,305.7 382.8,303.2 383.1,302.6 383.6,297.3 384.1,300.7 384.5,304.8 385.0,303.8 385.6,302.4 386.2,309.8 386.8,303.6 386.8,310.5 386.8,311.6 386.9,304.6 386.9,303.9 386.9,304.5 386.9,309.6 386.9,307.9 386.9,307.2 387.0,314.5 387.0,305.9 387.0,312.3 387.0,316.9 387.0,312.0 387.1,309.3 387.1,311.4 387.1,315.8 387.1,314.6 387.1,320.9 387.1,318.0 387.2,319.7 387.2,314.1 387.2,316.0 387.2,319.5 387.2,324.1 387.3,319.6 387.3,325.0 387.3,320.9 387.3,323.2 387.3,320.8 387.3,322.8 387.4,322.4 387.4,322.8 387.4,327.8 387.4,314.9 387.4,322.3 387.5,322.1 387.5,321.4 387.5,323.4 387.5,316.4 387.5,324.0 387.5,313.9 387.6,320.1 387.6,315.3 387.6,317.7 387.6,316.7 387.6,314.8 387.7,318.6 387.7,315.7 387.7,314.1 387.7,315.2 387.7,316.1 387.7,314.4 387.8,316.0 387.8,314.8 387.8,311.4 387.8,311.4 387.8,310.5 387.9,309.6 387.9,306.1 387.9,310.7 387.9,307.7 387.9,309.8 387.9,306.2 388.0,312.9 388.0,304.4 388.0,303.7 388.4,305.1 388.7,300.9 389.1,300.6 389.5,301.8 389.8,301.1 390.2,303.4 390.7,299.2 391.3,300.7 391.8,302.0 391.8,303.5 391.9,300.1 391.9,300.8 391.9,300.4 391.9,297.5 391.9,292.3 392.0,294.7 392.0,296.8 392.0,293.4 392.1,292.8 392.1,299.4 392.1,293.2 392.1,294.6 392.2,290.6 392.2,292.2 392.2,288.2 392.2,290.7 392.2,291.6 392.3,285.2 392.3,288.6 392.3,288.2 392.3,289.0 392.3,283.9 392.4,284.5 392.4,284.7 392.4,279.2 392.4,288.6 392.4,290.9 392.4,282.1 392.5,287.4 392.5,282.5 392.5,286.4 392.5,278.6 392.5,283.1 392.5,283.3 392.5,275.4 392.6,278.7 392.6,271.0 392.6,275.1 392.6,277.6 393.5,278.3 394.3,272.9 394.4,275.8 394.5,286.0 394.6,282.4 394.7,275.4 394.8,274.1 395.0,281.3 395.1,278.5 395.2,282.6 395.3,283.3 395.4,278.5 395.5,282.8 395.6,282.3 395.7,281.0 395.8,284.3 395.9,291.0 396.0,287.4 396.1,283.3 396.2,288.2 396.3,284.1 396.4,286.5 396.5,290.5 396.6,291.1 396.7,293.8 396.8,293.4 396.9,293.8 397.0,296.2 397.1,294.0 397.2,288.6 397.3,297.6 397.4,294.2 397.5,291.4 397.6,294.9 397.7,293.6 397.8,294.9 397.9,297.4 398.0,303.0 398.1,299.2 398.2,296.8 398.4,303.4 398.5,303.1 398.6,301.4 398.7,304.7 398.8,306.4 398.9,299.5 399.0,307.6 399.1,303.3 399.3,304.7 399.4,303.4 399.5,303.6 399.6,304.2 399.7,308.8 399.8,312.2 400.0,307.5 400.1,307.9 400.2,310.5 400.3,308.3 400.5,313.1 400.6,310.3 400.7,316.3 400.8,309.9 400.9,313.1 401.1,316.0 401.2,312.1 401.3,315.5 401.5,313.5 401.6,314.6 401.8,319.8 402.0,318.4 402.1,314.1 402.3,317.9 402.5,319.7 402.7,324.0 402.8,322.4 403.0,326.1 403.2,320.3 403.4,320.7 403.5,329.0 403.7,330.3 403.9,326.1 404.1,328.5 404.2,327.0 404.4,328.2 404.6,329.2 404.9,332.9 405.2,326.5 405.5,328.3 405.7,333.0 406.0,330.6 406.3,330.4 406.6,335.9 406.9,327.8 407.1,329.0 407.4,333.3 407.7,334.8 408.0,335.6 408.2,325.5 408.4,331.4 408.7,335.8 408.9,334.5 409.1,336.6 409.3,337.7 409.5,338.9 409.8,340.6 410.0,340.5 410.2,343.2 410.4,346.6 410.6,342.4 410.9,333.7 411.1,347.3 411.3,343.4 411.6,343.5 411.9,338.9 412.1,351.6 412.4,347.3 412.7,349.5 413.0,345.5 413.3,345.9 413.6,345.0 413.8,348.2 414.1,347.0 414.4,343.9 414.7,345.1 415.0,348.5 415.2,353.0 415.5,350.6 415.8,351.0 416.3,353.2 416.8,355.9 417.3,353.7 417.8,352.7 418.3,353.8 418.9,354.3 419.4,354.4 419.9,350.2 420.4,357.6 420.9,356.0 421.4,355.0 422.0,355.8 422.5,355.8 423.1,355.5 423.6,357.0 424.2,357.8 424.7,357.3 425.3,358.0 425.9,356.9 426.4,358.9 427.0,359.0 427.5,358.9 428.1,359.4 428.6,358.8 429.2,359.9 429.8,359.9 430.4,359.7 431.0,359.6 431.6,360.1 432.2,359.5 432.8,360.1 433.4,359.9 434.0,360.5 434.6,360.4 435.2,360.9 435.8,361.0 436.4,361.1 437.0,361.2 437.6,361.4 438.2,361.5 438.8,361.6 439.4,361.6 440.1,361.7 440.7,361.7 441.3,361.8 441.9,361.8 442.5,361.9 443.1,361.9 443.8,362.0 444.4,362.0 445.0,362.1 445.6,362.1 446.2,362.1 446.8,362.2 447.4,362.2 448.0,362.2 448.7,362.2 449.3,362.2 449.9,362.2 450.5,362.3 451.1,362.3 451.7,362.3 452.3,362.3 452.9,362.3 453.5,362.3 454.1,362.4 454.7,362.4 455.3,362.4 456.0,362.4 456.6,362.4 457.2,362.4 457.8,362.5 458.4,362.5 459.0,362.5 459.2,361.9 459.4,361.3 459.6,360.9 459.7,360.3 459.9,358.9 460.1,358.8 460.3,357.1 460.5,358.5 460.7,358.9 460.9,360.0 461.0,360.6 461.2,361.3 461.4,361.9 461.6,362.5 462.2,362.5 462.8,362.5 463.4,362.5 464.0,362.5 464.6,362.5 465.3,362.5 465.9,362.5 466.5,362.5 467.1,362.5 467.7,362.5 468.3,362.5 468.9,362.5 469.5,362.5 470.1,362.5 470.7,362.5 471.3,362.5 472.0,362.5 472.6,362.5 473.2,362.5 473.8,362.5 474.4,362.5 475.0,362.5 475.2,361.9 475.4,361.3 475.6,360.7 475.7,360.0 475.9,359.4 476.1,359.8 476.3,358.1 476.5,359.2 476.7,359.6 476.9,359.6 477.0,360.7 477.2,361.3 477.4,361.9 477.6,362.5 478.4,362.5 479.2,362.5 480.0,362.5" fill="none" stroke="#000" stroke-width="1.5" stroke-linejoin="round" stroke-linecap="round"/>
<path d="M136.88 92.02L138.79 91.43M140.56 90.28L142.47 89.68M143.37 90.09L145.23 89.35M146.93 88.44L148.71 87.54M150.01 86.99L151.89 86.32M154.12 85.46L156.00 84.80M156.26 84.80L157.50 83.23M158.55 81.62L159.74 80.02M160.39 79.19L161.21 77.37M161.40 76.30L162.66 74.80M164.25 73.42L165.78 72.13M167.06 71.17L168.39 70.81M169.08 71.82L169.92 73.63M170.20 74.53L170.87 72.65M171.09 70.91L172.05 69.43M172.93 69.78L173.22 67.87M173.65 66.01L173.88 64.02M174.68 62.05L174.90 60.06M174.66 59.73L174.88 57.75M174.50 55.37L174.77 53.39M175.78 52.92L176.05 50.94M176.41 49.13L176.68 47.15M176.26 45.25L176.54 43.27M176.58 42.48L176.88 40.50M177.01 38.89L177.31 36.92M177.49 36.36L177.69 34.37M177.90 32.70L178.04 30.70M178.45 28.33L178.58 26.34M179.03 25.27L179.16 23.27M178.84 22.90L178.97 20.91M179.54 18.50L179.64 16.51M179.28 14.99L179.38 12.99M178.92 12.04L179.02 10.04M180.34 9.15L181.01 8.59M181.19 9.35L181.71 11.28M181.96 12.23L183.61 13.23M184.31 13.16L184.80 11.22M184.85 9.64L185.34 7.70M185.83 6.99L186.08 7.91M185.98 8.36L186.07 10.35M186.18 12.10L186.27 14.10M186.80 15.65L186.86 17.65M186.88 19.44L186.94 21.44M186.78 22.19L186.84 24.19M186.27 26.37L186.33 28.37M186.57 29.56L186.63 31.56M186.74 32.27L186.80 34.27M186.81 36.09L186.93 38.09M187.40 39.21L187.52 41.21M187.89 42.11L188.01 44.11M188.06 46.28L188.12 48.28M187.94 49.77L188.00 51.77M188.37 53.40L188.43 55.40M188.24 56.50L188.30 58.50M188.69 59.67L188.89 61.66M188.30 63.07L188.50 65.06M188.82 66.89L189.03 68.88M189.55 70.39L189.93 72.34M190.17 73.44L190.74 75.35M191.24 76.85L191.85 78.76M192.72 79.49L193.47 81.34M193.91 82.80L194.66 84.66M195.02 86.43L196.30 87.97M197.70 89.66L199.26 90.68M199.96 89.85L201.95 90.09M203.52 90.39L205.43 90.94M207.85 90.61L209.76 91.18M209.83 91.91L211.82 92.11M213.60 92.35L215.59 92.55M216.69 93.18L218.68 93.38" fill="none" stroke="#000" stroke-width="2.0" stroke-linecap="butt"/>
<path d="M356.26 92.51L358.23 92.14M359.64 90.82L361.61 90.46M362.49 90.13L364.43 89.65M365.97 89.81L367.38 88.41M368.20 86.88L369.59 85.43M370.77 84.62L371.79 82.90M372.43 81.87L373.45 80.15M374.20 78.50L375.60 77.06M376.22 76.46L377.72 75.19M379.10 74.36L380.98 73.66M382.67 73.94L384.60 73.42M385.64 73.82L387.18 74.28M388.21 72.44L389.26 70.74M389.16 69.31L389.58 67.35M389.97 66.84L390.39 64.88M390.61 63.46L390.99 61.50M391.56 59.92L391.87 57.94M391.61 56.69L391.83 54.70M392.38 53.27L392.60 51.28M392.78 49.78L393.01 47.79M393.02 46.37L393.29 44.39M393.90 43.14L394.17 41.15M394.31 39.80L394.45 37.80M394.14 35.79L394.28 33.80M394.27 33.33L394.42 31.34M394.44 29.61L394.59 27.61M395.33 25.93L395.47 23.94M395.74 22.36L395.91 20.37M395.64 19.34L395.80 17.35M396.02 16.03L396.19 14.04M395.74 13.32L395.90 11.32M397.04 8.73L397.61 6.82M397.92 6.43L398.41 8.37M398.44 8.69L398.92 10.64M399.28 11.19L399.99 9.32M400.70 8.77L402.01 7.28M402.37 5.67L402.50 7.67M401.93 10.07L402.05 12.07M403.43 13.91L403.56 15.91M403.31 16.39L403.44 18.39M403.69 20.19L403.82 22.19M403.37 23.09L403.47 25.08M403.94 26.89L404.04 28.89M403.91 30.05L404.01 32.04M404.27 33.48L404.37 35.47M404.24 37.15L404.34 39.14M405.13 40.28L405.23 42.28M404.47 43.92L404.57 45.91M404.29 46.55L404.53 48.53M405.64 50.58L405.88 52.56M405.79 53.60L406.03 55.59M405.36 57.01L405.60 59.00M406.38 60.95L406.63 62.94M406.53 63.65L406.78 65.64M406.94 67.33L407.27 69.30M408.10 70.64L408.44 72.61M408.07 73.42L408.40 75.39M408.87 77.53L409.21 79.50M409.72 80.90L410.43 82.77M411.02 84.09L411.73 85.96M411.94 87.41L412.65 89.28M413.34 90.02L415.12 90.94M416.62 90.92L418.51 91.46M419.80 92.54L421.78 92.81M423.34 92.54L425.32 92.78M426.59 92.84L428.59 92.98M430.02 92.65L432.02 92.79M433.70 93.79L435.02 93.88" fill="none" stroke="#000" stroke-width="2.0" stroke-linecap="butt"/>
<path d="M178.46 147.93L178.64 149.92M178.80 151.15L179.31 152.87M180.52 153.66L182.45 154.21M183.93 154.41L185.40 155.73M186.20 156.69L187.61 158.11M188.63 158.91L190.30 160.01M191.82 160.66L193.63 161.03M195.03 161.01L196.94 160.92M198.19 161.30L199.14 163.06M199.56 164.42L200.48 166.20M201.04 167.61L201.81 169.46M202.38 170.73L203.11 172.59M203.46 173.77L204.10 175.66M204.66 177.05L205.17 178.98M205.66 180.55L206.08 182.51M206.16 183.59L206.42 184.80" fill="none" stroke="#000" stroke-width="2.0" stroke-linecap="butt"/>
<path d="M392.94 142.57L394.26 144.06M395.46 144.90L396.79 146.40M397.94 147.69L399.28 149.18M400.18 150.17L401.59 151.59M402.74 152.22L404.32 153.42M405.29 154.44L406.98 155.50M408.23 156.42L410.02 157.31M411.32 157.66L412.92 158.86M413.99 159.74L415.59 160.94M416.52 161.71L418.12 162.91M418.88 164.08L419.47 165.99M420.10 166.99L420.69 168.90M421.13 170.20L421.50 172.17M421.77 173.65L422.14 175.62M422.17 177.29L422.34 178.17" fill="none" stroke="#000" stroke-width="2.0" stroke-linecap="butt"/>
<path d="M135.82 357.68L136.25 355.73M136.01 355.47L136.45 353.52M136.46 350.72L136.90 348.77M137.75 348.39L138.18 346.44M138.37 344.87L138.90 342.95M139.05 341.47L139.94 339.68M140.18 337.98L141.70 336.74M143.06 336.55L144.17 334.96M144.93 334.65L145.83 332.86M146.40 330.53L147.15 328.68M147.37 327.91L148.07 326.03M149.20 324.92L149.90 323.05M150.43 321.42L151.55 319.76M151.77 318.15L152.88 319.40M154.64 320.76L155.30 319.65M154.43 319.29L155.08 317.39M155.61 316.80L156.23 314.90M157.67 313.14L157.87 311.15M158.46 308.98L158.66 306.99M158.25 304.75L158.45 302.76M157.55 301.12L157.75 299.13M159.04 298.62L159.26 296.63M158.91 295.22L159.13 293.23M159.21 292.07L159.39 290.08M160.06 289.11L160.12 287.11M160.03 285.23L160.10 283.23M160.86 281.74L160.92 279.74M159.98 278.49L160.34 276.53M160.94 275.51L161.70 276.87M161.99 278.36L162.15 280.35M161.84 282.06L161.93 284.06M162.44 286.61L162.53 288.60M162.61 288.04L162.91 290.01M164.33 291.73L164.70 293.70M163.50 295.65L163.86 297.62M164.79 298.34L165.67 300.14M167.54 302.31L168.41 304.11M168.03 305.75L169.49 305.12M170.19 303.76L171.79 302.56M172.67 301.60L174.52 300.82M176.32 301.41L177.66 302.88M178.21 305.11L180.01 305.99M181.60 306.28L182.12 308.21M181.78 309.69L182.30 311.63M182.47 312.70L183.00 314.63M183.79 316.73L184.36 318.65M184.61 319.78L185.18 321.70M185.57 323.22L186.14 325.13M186.45 327.06L187.07 328.96M187.89 329.48L188.62 331.34M189.42 332.68L190.15 334.54M190.15 336.29L190.97 338.11M191.49 339.08L192.32 340.90M192.66 341.83L193.80 343.48M195.36 344.12L196.55 345.73M196.33 347.73L197.57 349.30M199.57 349.78L200.81 351.34M200.79 352.88L202.04 354.44M202.54 355.93L203.79 357.49M205.16 357.51L206.87 358.54M208.63 359.37L210.36 360.35M210.93 361.54L212.89 361.93M215.35 361.16L215.52 361.20" fill="none" stroke="#000" stroke-width="2.0" stroke-linecap="butt"/>
<path d="M359.07 336.96L359.49 335.00M360.78 332.72L361.67 330.97M362.10 329.49L363.27 327.87M364.30 327.65L365.47 326.03M366.03 324.16L367.19 322.53M367.73 321.27L368.89 319.65M370.26 319.43L370.90 317.54M370.61 316.10L371.24 314.20M373.03 311.66L373.66 309.76M373.44 310.85L374.07 308.95M373.14 305.12L373.53 303.16M375.11 302.07L375.48 300.10M375.29 300.55L375.41 298.55M376.26 295.91L376.38 293.91M376.45 293.19L376.56 291.19M375.96 288.02L376.01 286.02M377.40 285.51L377.46 283.51M376.00 281.79L376.06 279.79M375.51 278.80L375.57 276.80M377.62 276.14L378.89 276.91M379.21 278.49L379.31 280.49M377.91 281.72L378.01 283.72M379.57 284.65L379.67 286.65M379.33 288.99L379.43 290.99M379.20 292.87L379.30 294.87M379.74 296.33L379.83 298.33M380.40 299.84L380.65 301.81M380.84 301.68L381.92 303.19M383.65 304.73L385.44 305.62M386.27 305.32L387.94 304.21M389.66 303.64L391.07 302.23M390.65 301.63L391.25 299.72M391.36 297.82L391.96 295.91M393.54 293.72L393.98 293.55M394.37 295.92L394.62 297.90M393.21 300.11L393.46 302.09M394.50 302.72L394.75 304.70M395.47 305.43L395.76 307.41M396.31 309.53L396.61 311.51M396.53 312.11L396.82 314.09M397.02 316.72L397.32 318.69M396.94 319.45L397.50 321.36M399.19 322.67L399.75 324.58M399.10 325.90L399.67 327.82M399.49 329.52L400.58 331.18M402.31 331.69L403.46 333.32M403.62 334.15L404.87 335.71M406.47 336.61L407.54 338.28M407.29 339.10L408.11 340.92M408.50 343.01L409.31 344.84M410.80 346.27L411.61 348.10M411.84 348.31L413.10 349.87M414.16 351.73L415.41 353.28M416.51 353.33L417.99 354.66M419.61 355.94L421.10 357.28M421.48 358.22L423.38 358.85M424.74 359.99L426.64 360.62M427.89 360.41L429.79 361.02M431.63 361.18L433.62 361.38M434.85 362.11L436.84 362.31M438.08 363.15L439.82 363.32" fill="none" stroke="#000" stroke-width="2.0" stroke-linecap="butt"/>
<polyline points="175.5,141.5 176.5,140.2 177.7,140.5 178.7,140.8 179.8,140.5 180.9,142.4 182.2,140.3 183.4,144.7 184.6,141.1 185.9,146.3 186.8,140.4 188.0,146.8 188.9,140.6 189.8,149.0 190.8,141.0 192.0,150.6 193.2,141.8 194.4,150.5" fill="none" stroke="#000" stroke-width="1.15" stroke-linejoin="round"/>
<text transform="translate(-0.2 20.65) scale(0.936 1)" style="font-family:'Liberation Sans', sans-serif;font-weight:bold;font-size:28.24px">B</text>
<text transform="translate(2.02 53.8) scale(0.963 1)" style="font-family:'Liberation Serif', serif;font-weight:bold;font-size:21.5px">CD14+</text>
<text transform="translate(2.45 189.5) scale(0.951 1)" style="font-family:'Liberation Serif', serif;font-weight:bold;font-size:21.5px">CD15+</text>
<text transform="translate(0.9 328.8) scale(0.986 1)" style="font-family:'Liberation Serif', serif;font-weight:bold;font-size:21.5px">Glyco. A+</text>
<text transform="translate(164.32 422.67) scale(0.887 1)" style="font-family:'Liberation Serif', serif;font-weight:bold;font-size:30.4px">Notch 1</text>
<text transform="translate(380.45 422.82) scale(0.897 1)" style="font-family:'Liberation Serif', serif;font-weight:bold;font-size:30.4px">Notch 2</text>
<text transform="translate(115.65 67.92) rotate(-90) scale(0.986 1)" style="font-family:'Liberation Sans', sans-serif;font-weight:bold;font-size:10.2px;stroke:#000;stroke-width:0.35px">Counts</text>
<text transform="translate(333.7 66.5) rotate(-90) scale(0.934 1)" style="font-family:'Liberation Sans', sans-serif;font-weight:bold;font-size:10.2px;stroke:#000;stroke-width:0.35px">Counts</text>
<text transform="translate(114.4 200.4) rotate(-90) scale(0.949 1)" style="font-family:'Liberation Sans', sans-serif;font-weight:bold;font-size:10.2px;stroke:#000;stroke-width:0.35px">Counts</text>
<text transform="translate(330.45 201.05) rotate(-90) scale(0.953 1)" style="font-family:'Liberation Sans', sans-serif;font-weight:bold;font-size:10.2px;stroke:#000;stroke-width:0.35px">Counts</text>
<text transform="translate(109.5 337.92) rotate(-90) scale(0.986 1)" style="font-family:'Liberation Sans', sans-serif;font-weight:bold;font-size:10.2px;stroke:#000;stroke-width:0.35px">Counts</text>
<text transform="translate(327.55 337.42) rotate(-90) scale(0.971 1)" style="font-family:'Liberation Sans', sans-serif;font-weight:bold;font-size:10.2px;stroke:#000;stroke-width:0.35px">Counts</text>
<text transform="translate(127.8 13.4) rotate(-90) scale(1.0 1)" style="font-family:'Liberation Sans', sans-serif;font-weight:bold;font-size:10.8px;stroke:#000;stroke-width:0.35px">60</text>
<text transform="translate(127.2 95.1) rotate(-90) scale(1.0 1)" style="font-family:'Liberation Sans', sans-serif;font-weight:bold;font-size:10.8px;stroke:#000;stroke-width:0.35px">0</text>
<text transform="translate(344.65 14.1) rotate(-90) scale(1.0 1)" style="font-family:'Liberation Sans', sans-serif;font-weight:bold;font-size:10.8px;stroke:#000;stroke-width:0.35px">60</text>
<text transform="translate(343.75 95.8) rotate(-90) scale(1.0 1)" style="font-family:'Liberation Sans', sans-serif;font-weight:bold;font-size:10.8px;stroke:#000;stroke-width:0.35px">0</text>
<text transform="translate(124.7 150.12) rotate(-90) scale(0.97 1)" style="font-family:'Liberation Sans', sans-serif;font-weight:bold;font-size:10.8px;stroke:#000;stroke-width:0.35px">400</text>
<text transform="translate(123.95 227.2) rotate(-90) scale(1.0 1)" style="font-family:'Liberation Sans', sans-serif;font-weight:bold;font-size:10.8px;stroke:#000;stroke-width:0.35px">0</text>
<text transform="translate(342.35 149.93) rotate(-90) scale(0.97 1)" style="font-family:'Liberation Sans', sans-serif;font-weight:bold;font-size:10.8px;stroke:#000;stroke-width:0.35px">400</text>
<text transform="translate(340.95 228.0) rotate(-90) scale(1.0 1)" style="font-family:'Liberation Sans', sans-serif;font-weight:bold;font-size:10.8px;stroke:#000;stroke-width:0.35px">0</text>
<text transform="translate(121.1 285.35) rotate(-90) scale(1.0 1)" style="font-family:'Liberation Sans', sans-serif;font-weight:bold;font-size:10.8px;stroke:#000;stroke-width:0.35px">25</text>
<text transform="translate(121.1 300.88) rotate(-90) scale(1.0 1)" style="font-family:'Liberation Sans', sans-serif;font-weight:bold;font-size:10.8px;stroke:#000;stroke-width:0.35px">20</text>
<text transform="translate(121.1 318.45) rotate(-90) scale(1.0 1)" style="font-family:'Liberation Sans', sans-serif;font-weight:bold;font-size:10.8px;stroke:#000;stroke-width:0.35px">15</text>
<text transform="translate(121.1 333.62) rotate(-90) scale(1.0 1)" style="font-family:'Liberation Sans', sans-serif;font-weight:bold;font-size:10.8px;stroke:#000;stroke-width:0.35px">10</text>
<text transform="translate(121.1 347.0) rotate(-90) scale(1.0 1)" style="font-family:'Liberation Sans', sans-serif;font-weight:bold;font-size:10.8px;stroke:#000;stroke-width:0.35px">5</text>
<text transform="translate(121.1 361.9) rotate(-90) scale(1.0 1)" style="font-family:'Liberation Sans', sans-serif;font-weight:bold;font-size:10.8px;stroke:#000;stroke-width:0.35px">0</text>
<text transform="translate(338.3 284.65) rotate(-90) scale(1.0 1)" style="font-family:'Liberation Sans', sans-serif;font-weight:bold;font-size:10.8px;stroke:#000;stroke-width:0.35px">25</text>
<text transform="translate(338.3 300.58) rotate(-90) scale(1.0 1)" style="font-family:'Liberation Sans', sans-serif;font-weight:bold;font-size:10.8px;stroke:#000;stroke-width:0.35px">20</text>
<text transform="translate(338.3 316.35) rotate(-90) scale(1.0 1)" style="font-family:'Liberation Sans', sans-serif;font-weight:bold;font-size:10.8px;stroke:#000;stroke-width:0.35px">15</text>
<text transform="translate(338.3 363.5) rotate(-90) scale(1.0 1)" style="font-family:'Liberation Sans', sans-serif;font-weight:bold;font-size:10.8px;stroke:#000;stroke-width:0.35px">0</text>
<text transform="translate(338.3 332.62) rotate(-90) scale(1.0 1)" style="font-family:'Liberation Sans', sans-serif;font-weight:bold;font-size:10.8px;stroke:#000;stroke-width:0.35px">10</text>
<text transform="translate(338.3 346.0) rotate(-90) scale(1.0 1)" style="font-family:'Liberation Sans', sans-serif;font-weight:bold;font-size:10.8px;stroke:#000;stroke-width:0.35px">5</text>
</svg>
</body></html>
